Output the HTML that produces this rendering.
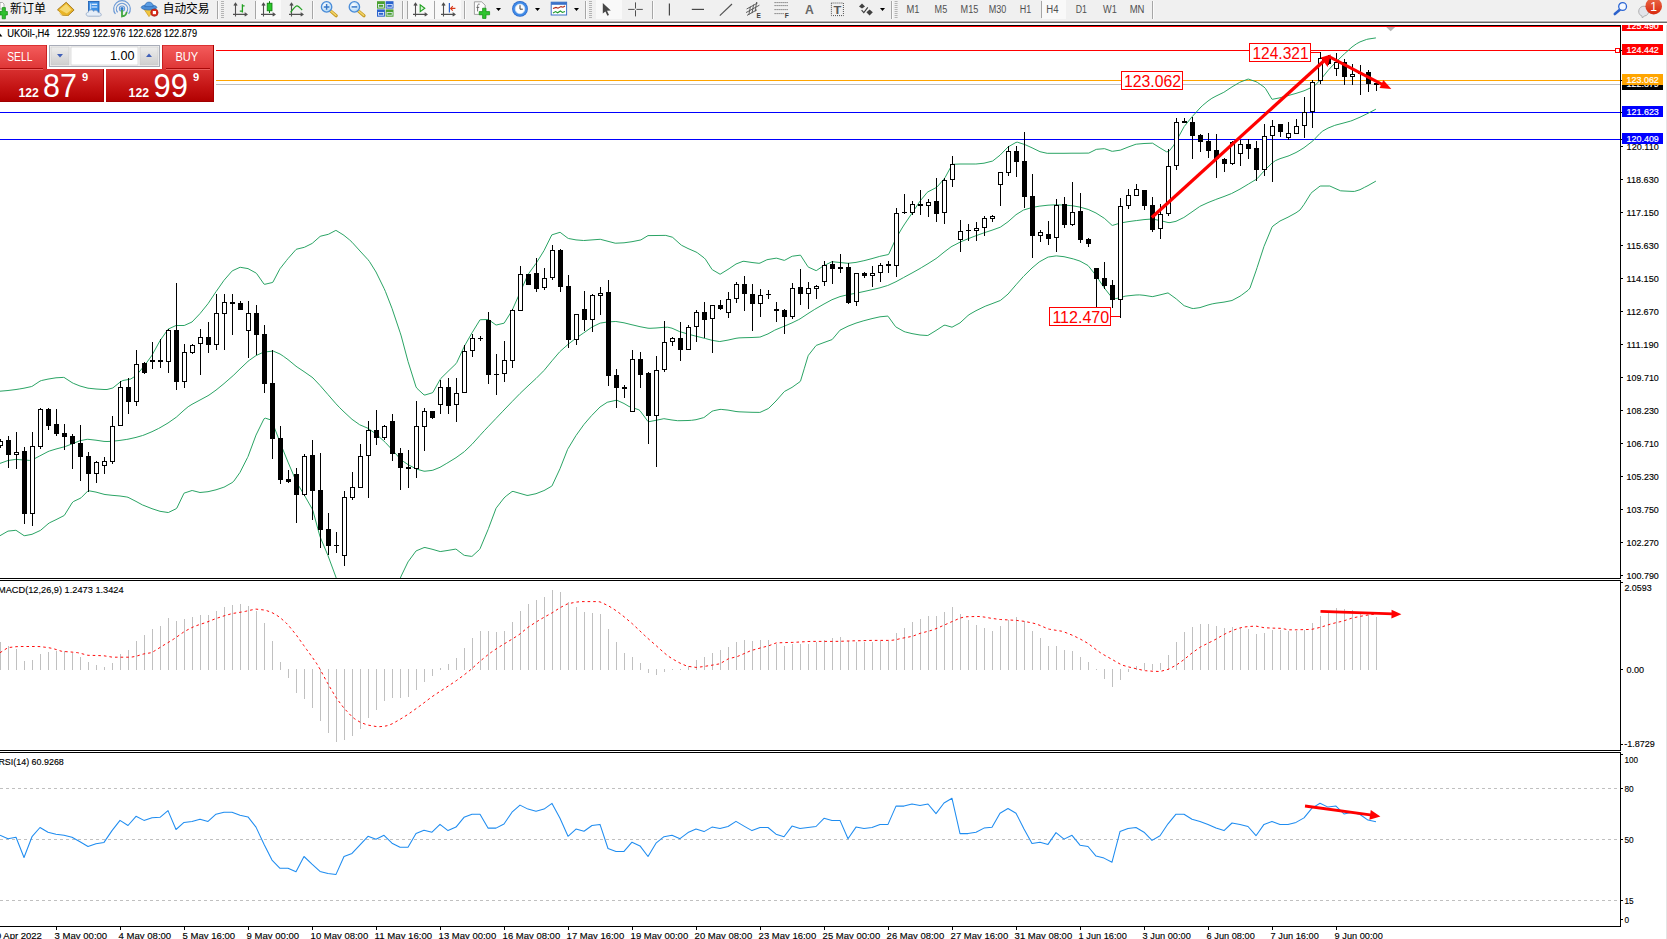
<!DOCTYPE html>
<html lang="zh"><head><meta charset="utf-8"><title>UKOil-,H4</title>
<style>
html,body{margin:0;padding:0;background:#fff}
body{width:1667px;height:939px;overflow:hidden;position:relative}
svg{display:block;position:absolute;left:0;top:0;font-family:"Liberation Sans","Noto Sans CJK SC",sans-serif}
.ce{shape-rendering:crispEdges}
.s{stroke:#000;stroke-width:.14px}
.sw{stroke:#fff;stroke-width:.2px}
</style></head><body>
<svg width="1667" height="939" viewBox="0 0 1667 939">
<defs>
<linearGradient id="gSell" x1="0" y1="0" x2="0" y2="1"><stop offset="0" stop-color="#f45c5c"/><stop offset="1" stop-color="#dd3434"/></linearGradient>
<linearGradient id="gPrice" x1="0" y1="0" x2="0" y2="1"><stop offset="0" stop-color="#d83030"/><stop offset="0.55" stop-color="#c41414"/><stop offset="1" stop-color="#b00000"/></linearGradient>
<linearGradient id="gBtn" x1="0" y1="0" x2="0" y2="1"><stop offset="0" stop-color="#ededed"/><stop offset="1" stop-color="#cfcfcf"/></linearGradient>
<linearGradient id="gBadge" x1="0" y1="0" x2="0" y2="1"><stop offset="0" stop-color="#ea6a48"/><stop offset="1" stop-color="#d8280e"/></linearGradient>
<radialGradient id="gLens" cx="0.4" cy="0.35" r="0.7"><stop offset="0" stop-color="#ffffff"/><stop offset="1" stop-color="#a8d4f4"/></radialGradient>
<radialGradient id="gClock" cx="0.5" cy="0.5" r="0.5"><stop offset="0.55" stop-color="#ffffff"/><stop offset="0.7" stop-color="#3a86e0"/><stop offset="1" stop-color="#1450b0"/></radialGradient>
<clipPath id="cMain"><rect x="0" y="27" width="1620" height="551"/></clipPath>
<clipPath id="cLbl"><rect x="1621" y="23" width="46" height="560"/></clipPath>
</defs>
<rect x="0" y="0" width="1667" height="939" fill="#fff"/>

<g class="ce">
<rect x="0" y="26" width="1620" height="1" fill="#ff0000" />
<rect x="0" y="50" width="1620" height="1" fill="#ff0000" />
<rect x="0" y="80" width="1620" height="1" fill="#ffa500" />
<rect x="0" y="84" width="1620" height="1" fill="#c0c0c0" />
<rect x="0" y="112" width="1620" height="1" fill="#0000ff" />
<rect x="0" y="139" width="1620" height="1" fill="#0000ff" />
</g>
<g clip-path="url(#cMain)" fill="none" stroke="#1f9e5c" stroke-width="0.95" stroke-linejoin="round">
<polyline points="0.0,391.2 8.0,390.5 16.0,389.5 19.8,388.9 24.0,388.2 31.7,386.5 32.0,386.4 40.0,381.1 41.6,380.5 48.0,379.1 56.0,377.8 63.4,377.4 64.0,377.4 72.0,382.6 73.3,383.3 80.0,386.0 88.0,388.2 89.1,388.3 96.0,389.0 104.0,389.5 107.0,389.5 112.0,388.2 112.9,387.9 120.0,382.2 122.8,380.5 128.0,379.6 130.7,379.0 136.0,375.7 144.0,366.2 150.6,357.2 152.0,355.2 160.0,340.7 168.0,329.3 168.4,329.0 176.0,325.5 176.3,325.5 184.0,325.5 184.2,325.5 192.0,322.0 200.0,313.6 208.0,303.7 216.0,291.7 216.3,291.3 224.0,280.3 232.0,271.1 232.6,270.7 240.0,267.3 240.3,267.3 248.0,268.6 256.0,273.0 256.6,273.5 264.0,284.1 264.8,284.3 272.0,282.6 272.9,282.2 279.7,269.2 280.0,268.7 286.4,260.6 288.0,258.6 296.0,249.5 296.9,249.1 304.0,247.4 304.6,247.2 312.0,243.5 312.3,243.3 320.0,236.5 320.9,236.1 328.0,234.4 328.6,234.2 335.8,230.4 336.0,230.4 343.0,234.7 344.0,235.4 349.7,240.0 352.0,242.2 360.0,251.0 368.0,259.7 369.5,261.6 376.0,272.0 384.0,288.3 385.4,291.4 392.0,308.4 400.0,332.2 401.2,335.9 408.0,361.4 416.0,386.9 417.0,388.4 424.0,394.9 425.0,395.0 432.0,392.9 432.9,392.4 440.0,379.7 440.8,378.5 448.0,371.4 456.0,363.7 456.7,362.7 464.0,347.0 464.6,345.8 472.0,332.8 472.5,332.0 480.0,319.8 480.5,319.7 488.0,319.5 488.4,319.5 496.0,325.0 496.3,325.0 504.0,323.2 504.2,323.1 512.0,310.6 512.2,310.2 520.0,292.6 520.1,292.4 528.0,274.5 535.9,263.6 536.0,263.5 543.9,250.8 544.0,250.6 551.8,234.9 552.0,234.8 560.0,232.3 560.1,232.3 568.0,238.3 568.6,238.5 576.0,239.9 583.5,240.5 584.0,240.5 592.0,239.9 600.0,239.3 600.3,239.3 608.0,241.3 615.2,243.2 616.0,243.2 624.0,242.8 632.0,241.7 640.0,240.1 640.9,239.9 648.0,235.6 656.0,235.5 664.0,235.4 665.8,235.4 672.0,237.1 672.7,237.4 680.0,244.0 681.6,245.3 688.0,248.5 696.0,252.0 697.4,252.8 704.0,257.8 705.4,259.2 712.0,269.4 712.3,269.7 720.0,274.2 720.2,274.2 728.0,269.4 729.1,268.7 736.0,264.0 743.0,261.3 744.0,261.3 752.0,262.5 758.9,263.3 760.0,263.1 766.8,259.8 768.0,259.5 776.0,258.2 776.7,258.2 784.0,260.3 784.6,260.3 792.0,256.3 792.5,256.2 800.0,255.2 800.5,255.2 808.0,266.8 808.4,267.1 816.0,270.6 816.3,270.6 822.2,266.7 824.0,265.6 832.0,261.7 832.2,261.7 840.0,262.5 848.0,263.3 856.0,262.4 863.9,260.7 864.0,260.7 872.0,258.6 879.7,256.4 880.0,256.3 888.0,254.6 888.6,254.4 895.5,239.5 896.0,238.5 901.5,229.0 904.0,225.0 912.0,213.2 913.4,211.2 920.0,201.1 927.2,192.4 928.0,191.8 936.0,187.7 937.1,186.9 944.0,179.0 945.1,177.5 952.0,164.8 953.0,164.3 960.0,164.0 962.0,164.0 968.0,164.0 975.8,164.0 976.0,164.0 984.0,163.2 992.0,161.2 992.7,161.0 1000.0,155.2 1008.0,147.0 1008.5,146.7 1016.0,142.4 1017.4,142.2 1024.0,144.3 1025.4,144.8 1032.0,147.8 1040.0,151.7 1047.2,153.3 1048.0,153.3 1056.0,153.3 1064.0,153.3 1072.0,153.2 1080.0,153.2 1088.0,153.1 1088.8,153.1 1096.0,149.5 1096.7,149.3 1104.0,148.7 1104.6,148.7 1112.0,151.3 1112.5,151.3 1120.0,150.2 1120.5,150.1 1128.0,147.1 1136.0,144.2 1136.3,144.2 1144.0,143.5 1152.0,143.2 1152.6,143.2 1160.0,147.9 1166.5,151.8 1168.0,151.6 1169.1,151.2 1173.8,145.2 1176.0,141.5 1179.0,136.0 1184.0,126.9 1184.3,126.4 1192.0,116.8 1192.3,116.5 1200.0,108.0 1202.8,105.3 1208.0,101.0 1211.9,98.3 1216.0,96.1 1223.8,92.3 1224.0,92.2 1232.0,86.9 1239.6,82.4 1240.0,82.2 1248.0,79.1 1248.5,79.1 1256.0,81.7 1257.4,82.4 1264.0,87.0 1265.4,88.4 1272.0,99.3 1272.3,99.3 1280.0,97.8 1285.2,96.3 1288.0,95.6 1296.0,93.4 1304.0,90.8 1305.0,90.4 1312.0,87.2 1314.9,85.4 1320.0,80.4 1328.0,70.5 1328.8,69.6 1336.0,62.0 1344.0,54.2 1344.6,53.7 1352.0,47.0 1356.5,43.8 1360.0,41.9 1366.4,39.5 1368.0,39.1 1375.9,37.9"/>
<polyline points="0.0,463.4 8.0,460.5 15.8,459.4 16.0,459.4 24.0,460.0 29.7,460.4 32.0,460.0 39.6,456.0 40.0,455.8 48.0,451.6 49.5,451.0 56.0,449.0 64.0,446.9 65.4,446.5 72.0,443.9 80.0,440.7 87.2,439.3 88.0,439.3 96.0,440.2 104.0,441.4 107.0,441.5 112.0,441.3 120.0,440.4 126.8,439.4 128.0,439.2 136.0,437.4 142.6,435.5 144.0,435.0 152.0,431.7 158.5,428.5 160.0,427.7 168.0,423.0 176.0,417.4 176.3,417.2 184.0,410.2 188.2,406.7 192.0,404.3 200.0,400.0 208.0,395.7 210.0,394.4 216.0,390.1 224.0,383.6 232.0,376.6 233.8,375.0 240.0,368.9 248.0,361.3 249.6,360.1 256.0,355.6 263.5,352.2 264.0,352.1 272.0,351.2 273.4,351.2 280.0,354.0 283.3,356.2 288.0,359.6 296.0,366.2 297.1,367.0 304.0,371.6 312.0,377.2 313.0,378.0 320.0,385.4 324.0,390.0 328.0,394.6 336.0,403.8 339.8,407.8 344.0,411.9 352.0,419.3 359.6,424.7 360.0,424.9 368.0,428.3 368.5,428.6 376.0,434.0 384.0,441.2 385.4,442.5 392.0,449.6 400.0,458.6 403.2,461.3 408.0,464.6 416.0,468.8 417.0,469.2 424.0,471.2 425.0,471.2 432.0,470.4 432.9,470.2 440.0,467.3 446.8,463.3 448.0,462.6 456.0,457.7 464.0,451.9 464.6,451.4 472.0,444.3 480.0,435.4 484.4,430.6 488.0,426.8 496.0,418.4 502.3,411.8 504.0,410.0 512.0,401.7 520.0,393.5 520.1,393.4 528.0,385.9 536.0,378.5 543.9,370.6 544.0,370.5 552.0,360.8 559.7,351.8 560.0,351.5 568.0,344.4 568.6,343.9 576.0,338.2 583.5,333.0 584.0,332.7 592.0,327.0 600.0,323.2 600.3,323.1 608.0,321.9 615.2,321.5 616.0,321.5 624.0,322.8 632.0,324.8 633.0,325.0 640.0,326.7 648.0,328.2 650.0,328.3 656.0,328.0 664.0,327.3 667.7,327.2 672.0,328.2 679.6,331.6 680.0,331.7 688.0,334.1 696.0,336.2 704.0,338.2 705.4,338.5 712.0,340.3 719.2,341.5 720.0,341.5 728.0,340.1 736.0,338.3 739.0,337.9 744.0,337.7 752.0,337.5 759.8,337.1 760.0,337.1 768.0,333.9 774.7,330.2 776.0,329.6 784.0,326.3 792.0,322.9 798.5,319.7 800.0,318.9 808.0,313.6 814.3,309.6 816.0,308.6 824.0,304.0 832.0,299.7 840.0,296.6 848.0,294.7 856.0,293.2 857.9,292.8 864.0,291.5 872.0,289.7 880.0,287.8 887.6,285.5 888.0,285.4 896.0,281.7 903.5,277.6 904.0,277.3 912.0,273.0 920.0,268.5 921.3,267.7 928.0,263.7 936.0,258.6 937.1,257.8 944.0,252.2 951.0,246.9 952.0,246.3 960.0,242.2 962.9,240.9 968.0,238.8 976.0,235.7 983.8,232.9 984.0,232.8 992.0,230.2 1000.0,227.3 1000.6,227.0 1008.0,221.8 1016.0,214.7 1023.4,210.1 1024.0,209.9 1032.0,207.5 1039.2,206.2 1040.0,206.1 1048.0,205.2 1055.1,204.8 1056.0,204.8 1064.0,205.1 1070.9,205.6 1072.0,205.7 1080.0,207.1 1088.0,209.4 1088.8,209.7 1096.0,213.0 1104.0,218.1 1104.6,218.5 1112.0,225.3 1112.5,225.4 1120.0,223.1 1120.5,223.0 1128.0,221.7 1136.0,220.6 1136.3,220.6 1144.0,219.6 1152.0,219.0 1152.2,219.0 1160.0,220.5 1168.0,222.5 1170.0,222.6 1176.0,221.3 1183.8,217.5 1184.0,217.4 1192.0,211.9 1199.7,206.5 1200.0,206.3 1208.0,202.6 1215.8,199.5 1216.0,199.4 1224.0,196.5 1231.6,193.5 1232.0,193.3 1240.0,189.1 1248.0,184.3 1248.5,184.0 1256.0,179.5 1257.3,178.5 1264.0,171.1 1265.4,169.6 1272.0,163.1 1275.3,160.7 1280.0,158.7 1288.0,156.1 1289.1,155.7 1296.0,152.5 1299.0,150.8 1304.0,147.7 1312.0,141.6 1312.9,140.9 1320.0,133.4 1322.8,131.0 1328.0,128.1 1334.7,125.4 1336.0,125.0 1344.0,122.9 1350.5,121.1 1352.0,120.6 1360.0,117.2 1366.4,114.1 1368.0,113.3 1375.9,109.2"/>
<polyline points="0.0,535.7 8.0,531.1 15.8,530.3 16.0,530.3 24.0,535.6 24.8,535.7 32.0,534.3 40.0,530.6 40.6,530.3 48.0,523.9 49.5,522.8 56.0,519.7 64.0,515.6 64.4,515.3 72.0,503.0 73.3,501.6 80.0,498.4 81.2,497.7 88.0,490.8 88.5,490.7 96.0,492.1 104.0,494.3 105.0,494.5 112.0,495.3 120.0,496.0 126.8,497.0 128.0,497.3 136.0,501.4 142.6,505.0 144.0,505.5 152.0,508.7 160.0,511.3 168.0,512.5 168.4,512.5 176.0,508.8 176.9,508.0 184.0,493.2 184.2,493.1 192.0,490.5 192.2,490.5 200.0,492.5 208.0,491.7 216.0,489.8 223.9,487.2 224.0,487.2 232.0,482.7 233.8,481.2 240.0,472.4 247.6,457.4 248.0,456.6 256.0,435.1 264.0,418.8 265.5,418.2 270.4,419.8 272.0,421.4 280.0,442.3 281.3,445.6 288.0,462.1 296.0,480.9 297.1,483.2 304.0,494.6 312.0,508.6 313.0,511.0 320.0,536.6 327.9,555.4 328.0,555.7 335.5,576.0 336.0,577.4 344.0,599.5 345.0,600.0 352.0,600.0 360.0,600.0 368.0,600.0 376.0,600.0 384.0,600.0 392.0,600.0 400.0,579.0 401.2,576.0 408.0,561.9 416.0,551.0 416.1,550.9 424.0,547.6 425.0,547.5 432.0,549.2 440.0,551.5 440.8,551.5 448.0,550.4 455.7,549.1 456.0,549.1 464.0,555.2 464.6,555.4 471.5,556.4 472.0,556.4 479.5,549.5 480.0,548.8 488.0,529.7 488.4,528.7 496.0,508.4 496.3,507.9 504.0,498.0 506.2,496.0 512.0,491.6 513.1,491.4 520.0,493.4 527.0,495.4 528.0,495.4 536.0,493.7 543.9,490.6 544.0,490.6 551.8,486.1 552.0,485.9 560.0,468.7 567.6,449.4 568.0,448.7 576.0,435.5 584.0,424.4 591.4,415.8 592.0,415.2 600.0,407.0 607.2,402.3 608.0,402.1 616.0,400.3 617.1,400.3 624.0,403.5 629.0,406.5 632.0,407.5 638.9,409.8 640.0,410.7 648.0,421.5 648.9,421.7 656.0,420.3 663.8,418.7 664.0,418.7 672.0,420.0 677.6,420.7 680.0,420.7 688.0,420.5 691.5,420.3 696.0,419.7 703.4,417.7 704.0,417.5 712.0,411.3 713.3,410.8 720.0,409.4 721.2,409.4 728.0,410.1 736.0,411.5 739.0,411.8 744.0,412.0 752.0,412.3 759.8,412.4 760.0,412.4 768.0,408.7 768.8,408.2 776.0,401.0 784.0,391.9 784.6,391.4 792.0,387.4 800.0,381.7 800.5,381.1 804.4,368.2 808.0,356.2 808.4,355.3 816.0,345.6 816.3,345.4 824.0,342.5 832.0,339.6 832.2,339.5 840.0,330.2 848.0,326.2 856.0,323.1 863.9,320.7 864.0,320.7 872.0,318.6 880.0,316.8 887.6,316.1 888.0,316.2 895.5,326.6 896.0,327.0 904.0,331.5 905.5,332.0 912.0,333.6 920.0,335.0 927.2,335.5 928.0,335.4 936.0,330.5 944.0,325.3 945.1,325.2 952.0,327.2 960.0,322.9 968.0,315.5 970.0,314.1 976.0,310.7 984.0,306.8 985.8,306.0 992.0,303.7 1000.0,300.6 1000.6,300.3 1008.0,294.1 1016.0,284.8 1023.4,276.5 1024.0,275.9 1032.0,268.0 1039.2,262.0 1040.0,261.5 1048.0,257.1 1048.5,257.0 1056.0,255.9 1056.4,255.9 1064.0,256.7 1072.0,258.6 1073.6,259.0 1080.0,261.1 1088.0,265.5 1088.1,265.6 1096.0,275.5 1102.6,285.4 1104.0,287.5 1110.5,295.9 1112.0,297.0 1115.8,298.6 1120.0,297.7 1125.0,296.2 1128.0,295.8 1136.0,295.0 1139.6,294.9 1144.0,295.3 1152.0,296.6 1152.8,296.6 1160.0,294.9 1168.0,292.9 1176.0,298.7 1176.6,299.2 1184.0,305.6 1184.5,305.8 1192.0,308.4 1193.7,308.5 1200.0,307.6 1208.0,305.0 1212.2,303.9 1216.0,303.2 1224.0,302.1 1232.0,300.5 1240.0,296.2 1241.3,295.3 1248.0,290.3 1250.0,288.0 1256.0,270.9 1257.1,267.6 1264.0,246.4 1272.0,227.2 1273.0,226.0 1280.0,221.0 1288.0,217.2 1290.0,216.1 1296.0,212.8 1300.0,210.0 1304.0,204.5 1310.9,193.4 1312.0,192.3 1320.0,186.1 1320.8,186.0 1328.0,186.0 1329.8,186.0 1336.0,188.8 1340.6,190.8 1344.0,191.0 1352.0,191.4 1354.5,191.4 1360.0,189.7 1364.4,187.4 1368.0,185.6 1375.9,181.1"/>
</g>
<g class="ce" clip-path="url(#cMain)">
<rect x="0" y="439" width="1" height="9" fill="#000" />
<rect x="-2" y="441" width="5" height="5" fill="#000" />
<rect x="-1" y="442" width="3" height="3" fill="#fff" />
<rect x="8" y="436" width="1" height="32" fill="#000" />
<rect x="6" y="440" width="5" height="15" fill="#000" />
<rect x="16" y="432" width="1" height="37" fill="#000" />
<rect x="14" y="452" width="5" height="3" fill="#000" />
<rect x="15" y="453" width="3" height="1" fill="#fff" />
<rect x="24" y="447" width="1" height="77" fill="#000" />
<rect x="22" y="451" width="5" height="63" fill="#000" />
<rect x="32" y="432" width="1" height="94" fill="#000" />
<rect x="30" y="446" width="5" height="68" fill="#000" />
<rect x="31" y="447" width="3" height="66" fill="#fff" />
<rect x="40" y="408" width="1" height="41" fill="#000" />
<rect x="38" y="409" width="5" height="38" fill="#000" />
<rect x="39" y="410" width="3" height="36" fill="#fff" />
<rect x="48" y="408" width="1" height="22" fill="#000" />
<rect x="46" y="409" width="5" height="17" fill="#000" />
<rect x="56" y="409" width="1" height="27" fill="#000" />
<rect x="54" y="424" width="5" height="10" fill="#000" />
<rect x="64" y="424" width="1" height="26" fill="#000" />
<rect x="62" y="433" width="5" height="4" fill="#000" />
<rect x="72" y="434" width="1" height="35" fill="#000" />
<rect x="70" y="436" width="5" height="8" fill="#000" />
<rect x="80" y="425" width="1" height="56" fill="#000" />
<rect x="78" y="443" width="5" height="14" fill="#000" />
<rect x="88" y="452" width="1" height="40" fill="#000" />
<rect x="86" y="456" width="5" height="18" fill="#000" />
<rect x="96" y="461" width="1" height="22" fill="#000" />
<rect x="94" y="462" width="5" height="12" fill="#000" />
<rect x="95" y="463" width="3" height="10" fill="#fff" />
<rect x="104" y="457" width="1" height="17" fill="#000" />
<rect x="102" y="461" width="5" height="5" fill="#000" />
<rect x="103" y="462" width="3" height="3" fill="#fff" />
<rect x="112" y="416" width="1" height="48" fill="#000" />
<rect x="110" y="426" width="5" height="36" fill="#000" />
<rect x="111" y="427" width="3" height="34" fill="#fff" />
<rect x="120" y="381" width="1" height="45" fill="#000" />
<rect x="118" y="387" width="5" height="39" fill="#000" />
<rect x="119" y="388" width="3" height="37" fill="#fff" />
<rect x="128" y="378" width="1" height="36" fill="#000" />
<rect x="126" y="387" width="5" height="15" fill="#000" />
<rect x="136" y="350" width="1" height="56" fill="#000" />
<rect x="134" y="364" width="5" height="38" fill="#000" />
<rect x="135" y="365" width="3" height="36" fill="#fff" />
<rect x="144" y="362" width="1" height="12" fill="#000" />
<rect x="142" y="363" width="5" height="10" fill="#000" />
<rect x="152" y="342" width="1" height="27" fill="#000" />
<rect x="150" y="360" width="5" height="2" fill="#000" />
<rect x="160" y="339" width="1" height="29" fill="#000" />
<rect x="158" y="360" width="5" height="2" fill="#000" />
<rect x="168" y="329" width="1" height="44" fill="#000" />
<rect x="166" y="330" width="5" height="32" fill="#000" />
<rect x="167" y="331" width="3" height="30" fill="#fff" />
<rect x="176" y="283" width="1" height="107" fill="#000" />
<rect x="174" y="330" width="5" height="52" fill="#000" />
<rect x="184" y="344" width="1" height="44" fill="#000" />
<rect x="182" y="352" width="5" height="30" fill="#000" />
<rect x="183" y="353" width="3" height="28" fill="#fff" />
<rect x="192" y="344" width="1" height="10" fill="#000" />
<rect x="190" y="345" width="5" height="8" fill="#000" />
<rect x="191" y="346" width="3" height="6" fill="#fff" />
<rect x="200" y="329" width="1" height="46" fill="#000" />
<rect x="198" y="337" width="5" height="7" fill="#000" />
<rect x="199" y="338" width="3" height="5" fill="#fff" />
<rect x="208" y="322" width="1" height="31" fill="#000" />
<rect x="206" y="337" width="5" height="8" fill="#000" />
<rect x="216" y="294" width="1" height="56" fill="#000" />
<rect x="214" y="313" width="5" height="32" fill="#000" />
<rect x="215" y="314" width="3" height="30" fill="#fff" />
<rect x="224" y="294" width="1" height="56" fill="#000" />
<rect x="222" y="302" width="5" height="12" fill="#000" />
<rect x="223" y="303" width="3" height="10" fill="#fff" />
<rect x="232" y="294" width="1" height="41" fill="#000" />
<rect x="230" y="302" width="5" height="2" fill="#000" />
<rect x="240" y="301" width="1" height="9" fill="#000" />
<rect x="238" y="303" width="5" height="7" fill="#000" />
<rect x="248" y="301" width="1" height="57" fill="#000" />
<rect x="246" y="313" width="5" height="18" fill="#000" />
<rect x="247" y="314" width="3" height="16" fill="#fff" />
<rect x="256" y="305" width="1" height="50" fill="#000" />
<rect x="254" y="313" width="5" height="22" fill="#000" />
<rect x="264" y="325" width="1" height="68" fill="#000" />
<rect x="262" y="334" width="5" height="50" fill="#000" />
<rect x="272" y="350" width="1" height="109" fill="#000" />
<rect x="270" y="383" width="5" height="56" fill="#000" />
<rect x="280" y="426" width="1" height="58" fill="#000" />
<rect x="278" y="438" width="5" height="42" fill="#000" />
<rect x="288" y="470" width="1" height="13" fill="#000" />
<rect x="286" y="479" width="5" height="3" fill="#000" />
<rect x="296" y="468" width="1" height="55" fill="#000" />
<rect x="294" y="474" width="5" height="21" fill="#000" />
<rect x="304" y="454" width="1" height="42" fill="#000" />
<rect x="302" y="456" width="5" height="39" fill="#000" />
<rect x="303" y="457" width="3" height="37" fill="#fff" />
<rect x="312" y="440" width="1" height="80" fill="#000" />
<rect x="310" y="455" width="5" height="36" fill="#000" />
<rect x="320" y="453" width="1" height="95" fill="#000" />
<rect x="318" y="490" width="5" height="40" fill="#000" />
<rect x="328" y="513" width="1" height="42" fill="#000" />
<rect x="326" y="529" width="5" height="17" fill="#000" />
<rect x="336" y="532" width="1" height="21" fill="#000" />
<rect x="334" y="545" width="5" height="1" fill="#000" />
<rect x="344" y="491" width="1" height="75" fill="#000" />
<rect x="342" y="497" width="5" height="59" fill="#000" />
<rect x="343" y="498" width="3" height="57" fill="#fff" />
<rect x="352" y="472" width="1" height="28" fill="#000" />
<rect x="350" y="487" width="5" height="11" fill="#000" />
<rect x="351" y="488" width="3" height="9" fill="#fff" />
<rect x="360" y="444" width="1" height="44" fill="#000" />
<rect x="358" y="456" width="5" height="32" fill="#000" />
<rect x="359" y="457" width="3" height="30" fill="#fff" />
<rect x="368" y="421" width="1" height="77" fill="#000" />
<rect x="366" y="430" width="5" height="26" fill="#000" />
<rect x="367" y="431" width="3" height="24" fill="#fff" />
<rect x="376" y="410" width="1" height="35" fill="#000" />
<rect x="374" y="430" width="5" height="8" fill="#000" />
<rect x="384" y="425" width="1" height="15" fill="#000" />
<rect x="382" y="426" width="5" height="12" fill="#000" />
<rect x="383" y="427" width="3" height="10" fill="#fff" />
<rect x="392" y="414" width="1" height="47" fill="#000" />
<rect x="390" y="421" width="5" height="33" fill="#000" />
<rect x="400" y="448" width="1" height="42" fill="#000" />
<rect x="398" y="453" width="5" height="15" fill="#000" />
<rect x="408" y="450" width="1" height="38" fill="#000" />
<rect x="406" y="467" width="5" height="2" fill="#000" />
<rect x="416" y="401" width="1" height="77" fill="#000" />
<rect x="414" y="426" width="5" height="43" fill="#000" />
<rect x="415" y="427" width="3" height="41" fill="#fff" />
<rect x="424" y="408" width="1" height="43" fill="#000" />
<rect x="422" y="411" width="5" height="16" fill="#000" />
<rect x="423" y="412" width="3" height="14" fill="#fff" />
<rect x="432" y="411" width="1" height="8" fill="#000" />
<rect x="430" y="411" width="5" height="7" fill="#000" />
<rect x="440" y="380" width="1" height="34" fill="#000" />
<rect x="438" y="387" width="5" height="18" fill="#000" />
<rect x="439" y="388" width="3" height="16" fill="#fff" />
<rect x="448" y="378" width="1" height="36" fill="#000" />
<rect x="446" y="387" width="5" height="19" fill="#000" />
<rect x="456" y="378" width="1" height="44" fill="#000" />
<rect x="454" y="393" width="5" height="12" fill="#000" />
<rect x="455" y="394" width="3" height="10" fill="#fff" />
<rect x="464" y="345" width="1" height="48" fill="#000" />
<rect x="462" y="351" width="5" height="42" fill="#000" />
<rect x="463" y="352" width="3" height="40" fill="#fff" />
<rect x="472" y="334" width="1" height="23" fill="#000" />
<rect x="470" y="338" width="5" height="13" fill="#000" />
<rect x="471" y="339" width="3" height="11" fill="#fff" />
<rect x="480" y="336" width="1" height="5" fill="#000" />
<rect x="478" y="338" width="5" height="1" fill="#000" />
<rect x="488" y="312" width="1" height="72" fill="#000" />
<rect x="486" y="320" width="5" height="55" fill="#000" />
<rect x="496" y="354" width="1" height="41" fill="#000" />
<rect x="494" y="374" width="5" height="1" fill="#000" />
<rect x="504" y="341" width="1" height="41" fill="#000" />
<rect x="502" y="360" width="5" height="14" fill="#000" />
<rect x="503" y="361" width="3" height="12" fill="#fff" />
<rect x="512" y="309" width="1" height="59" fill="#000" />
<rect x="510" y="310" width="5" height="51" fill="#000" />
<rect x="511" y="311" width="3" height="49" fill="#fff" />
<rect x="520" y="266" width="1" height="45" fill="#000" />
<rect x="518" y="274" width="5" height="37" fill="#000" />
<rect x="519" y="275" width="3" height="35" fill="#fff" />
<rect x="528" y="274" width="1" height="11" fill="#000" />
<rect x="526" y="274" width="5" height="11" fill="#000" />
<rect x="536" y="258" width="1" height="34" fill="#000" />
<rect x="534" y="273" width="5" height="16" fill="#000" />
<rect x="544" y="268" width="1" height="22" fill="#000" />
<rect x="542" y="278" width="5" height="10" fill="#000" />
<rect x="543" y="279" width="3" height="8" fill="#fff" />
<rect x="552" y="245" width="1" height="35" fill="#000" />
<rect x="550" y="250" width="5" height="28" fill="#000" />
<rect x="551" y="251" width="3" height="26" fill="#fff" />
<rect x="560" y="249" width="1" height="43" fill="#000" />
<rect x="558" y="250" width="5" height="37" fill="#000" />
<rect x="568" y="275" width="1" height="73" fill="#000" />
<rect x="566" y="286" width="5" height="54" fill="#000" />
<rect x="576" y="314" width="1" height="31" fill="#000" />
<rect x="574" y="314" width="5" height="26" fill="#000" />
<rect x="575" y="315" width="3" height="24" fill="#fff" />
<rect x="584" y="291" width="1" height="40" fill="#000" />
<rect x="582" y="309" width="5" height="11" fill="#000" />
<rect x="592" y="294" width="1" height="38" fill="#000" />
<rect x="590" y="295" width="5" height="25" fill="#000" />
<rect x="591" y="296" width="3" height="23" fill="#fff" />
<rect x="600" y="287" width="1" height="28" fill="#000" />
<rect x="598" y="293" width="5" height="3" fill="#000" />
<rect x="599" y="294" width="3" height="1" fill="#fff" />
<rect x="608" y="280" width="1" height="106" fill="#000" />
<rect x="606" y="292" width="5" height="84" fill="#000" />
<rect x="616" y="369" width="1" height="39" fill="#000" />
<rect x="614" y="375" width="5" height="13" fill="#000" />
<rect x="624" y="385" width="1" height="13" fill="#000" />
<rect x="622" y="387" width="5" height="2" fill="#000" />
<rect x="632" y="350" width="1" height="62" fill="#000" />
<rect x="630" y="359" width="5" height="53" fill="#000" />
<rect x="631" y="360" width="3" height="51" fill="#fff" />
<rect x="640" y="352" width="1" height="36" fill="#000" />
<rect x="638" y="359" width="5" height="16" fill="#000" />
<rect x="648" y="372" width="1" height="72" fill="#000" />
<rect x="646" y="373" width="5" height="43" fill="#000" />
<rect x="656" y="356" width="1" height="111" fill="#000" />
<rect x="654" y="370" width="5" height="46" fill="#000" />
<rect x="655" y="371" width="3" height="44" fill="#fff" />
<rect x="664" y="321" width="1" height="51" fill="#000" />
<rect x="662" y="342" width="5" height="28" fill="#000" />
<rect x="663" y="343" width="3" height="26" fill="#fff" />
<rect x="672" y="337" width="1" height="9" fill="#000" />
<rect x="670" y="338" width="5" height="4" fill="#000" />
<rect x="671" y="339" width="3" height="2" fill="#fff" />
<rect x="680" y="322" width="1" height="39" fill="#000" />
<rect x="678" y="338" width="5" height="12" fill="#000" />
<rect x="688" y="325" width="1" height="25" fill="#000" />
<rect x="686" y="327" width="5" height="23" fill="#000" />
<rect x="687" y="328" width="3" height="21" fill="#fff" />
<rect x="696" y="310" width="1" height="32" fill="#000" />
<rect x="694" y="312" width="5" height="15" fill="#000" />
<rect x="695" y="313" width="3" height="13" fill="#fff" />
<rect x="704" y="302" width="1" height="36" fill="#000" />
<rect x="702" y="312" width="5" height="8" fill="#000" />
<rect x="712" y="305" width="1" height="48" fill="#000" />
<rect x="710" y="305" width="5" height="14" fill="#000" />
<rect x="711" y="306" width="3" height="12" fill="#fff" />
<rect x="720" y="300" width="1" height="10" fill="#000" />
<rect x="718" y="305" width="5" height="4" fill="#000" />
<rect x="728" y="292" width="1" height="26" fill="#000" />
<rect x="726" y="299" width="5" height="14" fill="#000" />
<rect x="727" y="300" width="3" height="12" fill="#fff" />
<rect x="736" y="282" width="1" height="21" fill="#000" />
<rect x="734" y="284" width="5" height="15" fill="#000" />
<rect x="735" y="285" width="3" height="13" fill="#fff" />
<rect x="744" y="276" width="1" height="35" fill="#000" />
<rect x="742" y="284" width="5" height="10" fill="#000" />
<rect x="752" y="284" width="1" height="47" fill="#000" />
<rect x="750" y="294" width="5" height="10" fill="#000" />
<rect x="760" y="289" width="1" height="28" fill="#000" />
<rect x="758" y="295" width="5" height="9" fill="#000" />
<rect x="759" y="296" width="3" height="7" fill="#fff" />
<rect x="768" y="290" width="1" height="9" fill="#000" />
<rect x="766" y="294" width="5" height="1" fill="#000" />
<rect x="776" y="302" width="1" height="20" fill="#000" />
<rect x="774" y="309" width="5" height="2" fill="#000" />
<rect x="784" y="309" width="1" height="25" fill="#000" />
<rect x="782" y="310" width="5" height="7" fill="#000" />
<rect x="792" y="283" width="1" height="36" fill="#000" />
<rect x="790" y="288" width="5" height="29" fill="#000" />
<rect x="791" y="289" width="3" height="27" fill="#fff" />
<rect x="800" y="269" width="1" height="36" fill="#000" />
<rect x="798" y="287" width="5" height="7" fill="#000" />
<rect x="808" y="282" width="1" height="27" fill="#000" />
<rect x="806" y="288" width="5" height="6" fill="#000" />
<rect x="807" y="289" width="3" height="4" fill="#fff" />
<rect x="816" y="285" width="1" height="14" fill="#000" />
<rect x="814" y="286" width="5" height="3" fill="#000" />
<rect x="815" y="287" width="3" height="1" fill="#fff" />
<rect x="824" y="261" width="1" height="25" fill="#000" />
<rect x="822" y="265" width="5" height="17" fill="#000" />
<rect x="823" y="266" width="3" height="15" fill="#fff" />
<rect x="832" y="261" width="1" height="23" fill="#000" />
<rect x="830" y="264" width="5" height="5" fill="#000" />
<rect x="840" y="254" width="1" height="19" fill="#000" />
<rect x="838" y="267" width="5" height="2" fill="#000" />
<rect x="848" y="263" width="1" height="41" fill="#000" />
<rect x="846" y="267" width="5" height="36" fill="#000" />
<rect x="856" y="273" width="1" height="33" fill="#000" />
<rect x="854" y="273" width="5" height="29" fill="#000" />
<rect x="855" y="274" width="3" height="27" fill="#fff" />
<rect x="864" y="272" width="1" height="6" fill="#000" />
<rect x="862" y="273" width="5" height="3" fill="#000" />
<rect x="872" y="266" width="1" height="21" fill="#000" />
<rect x="870" y="273" width="5" height="3" fill="#000" />
<rect x="871" y="274" width="3" height="1" fill="#fff" />
<rect x="880" y="263" width="1" height="19" fill="#000" />
<rect x="878" y="265" width="5" height="8" fill="#000" />
<rect x="879" y="266" width="3" height="6" fill="#fff" />
<rect x="888" y="261" width="1" height="12" fill="#000" />
<rect x="886" y="264" width="5" height="2" fill="#000" />
<rect x="896" y="208" width="1" height="69" fill="#000" />
<rect x="894" y="213" width="5" height="53" fill="#000" />
<rect x="895" y="214" width="3" height="51" fill="#fff" />
<rect x="904" y="194" width="1" height="20" fill="#000" />
<rect x="902" y="212" width="5" height="1" fill="#000" />
<rect x="912" y="201" width="1" height="14" fill="#000" />
<rect x="910" y="204" width="5" height="9" fill="#000" />
<rect x="911" y="205" width="3" height="7" fill="#fff" />
<rect x="920" y="190" width="1" height="25" fill="#000" />
<rect x="918" y="204" width="5" height="2" fill="#000" />
<rect x="928" y="199" width="1" height="18" fill="#000" />
<rect x="926" y="202" width="5" height="4" fill="#000" />
<rect x="927" y="203" width="3" height="2" fill="#fff" />
<rect x="936" y="178" width="1" height="44" fill="#000" />
<rect x="934" y="201" width="5" height="13" fill="#000" />
<rect x="944" y="178" width="1" height="46" fill="#000" />
<rect x="942" y="180" width="5" height="33" fill="#000" />
<rect x="943" y="181" width="3" height="31" fill="#fff" />
<rect x="952" y="156" width="1" height="31" fill="#000" />
<rect x="950" y="164" width="5" height="16" fill="#000" />
<rect x="951" y="165" width="3" height="14" fill="#fff" />
<rect x="960" y="220" width="1" height="32" fill="#000" />
<rect x="958" y="231" width="5" height="9" fill="#000" />
<rect x="959" y="232" width="3" height="7" fill="#fff" />
<rect x="968" y="224" width="1" height="17" fill="#000" />
<rect x="966" y="230" width="5" height="1" fill="#000" />
<rect x="976" y="222" width="1" height="19" fill="#000" />
<rect x="974" y="228" width="5" height="3" fill="#000" />
<rect x="975" y="229" width="3" height="1" fill="#fff" />
<rect x="984" y="216" width="1" height="20" fill="#000" />
<rect x="982" y="218" width="5" height="10" fill="#000" />
<rect x="983" y="219" width="3" height="8" fill="#fff" />
<rect x="992" y="215" width="1" height="7" fill="#000" />
<rect x="990" y="216" width="5" height="3" fill="#000" />
<rect x="991" y="217" width="3" height="1" fill="#fff" />
<rect x="1000" y="172" width="1" height="34" fill="#000" />
<rect x="998" y="172" width="5" height="13" fill="#000" />
<rect x="999" y="173" width="3" height="11" fill="#fff" />
<rect x="1008" y="146" width="1" height="30" fill="#000" />
<rect x="1006" y="151" width="5" height="22" fill="#000" />
<rect x="1007" y="152" width="3" height="20" fill="#fff" />
<rect x="1016" y="146" width="1" height="31" fill="#000" />
<rect x="1014" y="151" width="5" height="11" fill="#000" />
<rect x="1024" y="132" width="1" height="76" fill="#000" />
<rect x="1022" y="161" width="5" height="36" fill="#000" />
<rect x="1032" y="174" width="1" height="84" fill="#000" />
<rect x="1030" y="196" width="5" height="40" fill="#000" />
<rect x="1040" y="230" width="1" height="12" fill="#000" />
<rect x="1038" y="232" width="5" height="4" fill="#000" />
<rect x="1039" y="233" width="3" height="2" fill="#fff" />
<rect x="1048" y="221" width="1" height="24" fill="#000" />
<rect x="1046" y="234" width="5" height="5" fill="#000" />
<rect x="1056" y="199" width="1" height="53" fill="#000" />
<rect x="1054" y="205" width="5" height="33" fill="#000" />
<rect x="1055" y="206" width="3" height="31" fill="#fff" />
<rect x="1064" y="197" width="1" height="31" fill="#000" />
<rect x="1062" y="204" width="5" height="21" fill="#000" />
<rect x="1072" y="182" width="1" height="44" fill="#000" />
<rect x="1070" y="212" width="5" height="13" fill="#000" />
<rect x="1071" y="213" width="3" height="11" fill="#fff" />
<rect x="1080" y="193" width="1" height="50" fill="#000" />
<rect x="1078" y="211" width="5" height="29" fill="#000" />
<rect x="1088" y="238" width="1" height="9" fill="#000" />
<rect x="1086" y="239" width="5" height="5" fill="#000" />
<rect x="1096" y="268" width="1" height="41" fill="#000" />
<rect x="1094" y="268" width="5" height="11" fill="#000" />
<rect x="1104" y="262" width="1" height="27" fill="#000" />
<rect x="1102" y="278" width="5" height="8" fill="#000" />
<rect x="1112" y="280" width="1" height="28" fill="#000" />
<rect x="1110" y="285" width="5" height="15" fill="#000" />
<rect x="1120" y="198" width="1" height="120" fill="#000" />
<rect x="1118" y="206" width="5" height="94" fill="#000" />
<rect x="1119" y="207" width="3" height="92" fill="#fff" />
<rect x="1128" y="189" width="1" height="20" fill="#000" />
<rect x="1126" y="195" width="5" height="11" fill="#000" />
<rect x="1127" y="196" width="3" height="9" fill="#fff" />
<rect x="1136" y="184" width="1" height="12" fill="#000" />
<rect x="1134" y="189" width="5" height="7" fill="#000" />
<rect x="1135" y="190" width="3" height="5" fill="#fff" />
<rect x="1144" y="190" width="1" height="20" fill="#000" />
<rect x="1142" y="190" width="5" height="16" fill="#000" />
<rect x="1152" y="197" width="1" height="35" fill="#000" />
<rect x="1150" y="205" width="5" height="25" fill="#000" />
<rect x="1160" y="204" width="1" height="35" fill="#000" />
<rect x="1158" y="214" width="5" height="15" fill="#000" />
<rect x="1159" y="215" width="3" height="13" fill="#fff" />
<rect x="1168" y="149" width="1" height="67" fill="#000" />
<rect x="1166" y="166" width="5" height="48" fill="#000" />
<rect x="1167" y="167" width="3" height="46" fill="#fff" />
<rect x="1176" y="118" width="1" height="52" fill="#000" />
<rect x="1174" y="122" width="5" height="44" fill="#000" />
<rect x="1175" y="123" width="3" height="42" fill="#fff" />
<rect x="1184" y="118" width="1" height="5" fill="#000" />
<rect x="1182" y="121" width="5" height="2" fill="#000" />
<rect x="1192" y="117" width="1" height="42" fill="#000" />
<rect x="1190" y="122" width="5" height="14" fill="#000" />
<rect x="1200" y="134" width="1" height="18" fill="#000" />
<rect x="1198" y="135" width="5" height="7" fill="#000" />
<rect x="1208" y="133" width="1" height="25" fill="#000" />
<rect x="1206" y="141" width="5" height="10" fill="#000" />
<rect x="1216" y="134" width="1" height="44" fill="#000" />
<rect x="1214" y="150" width="5" height="9" fill="#000" />
<rect x="1224" y="158" width="1" height="14" fill="#000" />
<rect x="1222" y="159" width="5" height="5" fill="#000" />
<rect x="1232" y="141" width="1" height="24" fill="#000" />
<rect x="1230" y="142" width="5" height="22" fill="#000" />
<rect x="1231" y="143" width="3" height="20" fill="#fff" />
<rect x="1240" y="140" width="1" height="26" fill="#000" />
<rect x="1238" y="144" width="5" height="10" fill="#000" />
<rect x="1239" y="145" width="3" height="8" fill="#fff" />
<rect x="1248" y="139" width="1" height="20" fill="#000" />
<rect x="1246" y="144" width="5" height="5" fill="#000" />
<rect x="1256" y="141" width="1" height="40" fill="#000" />
<rect x="1254" y="148" width="5" height="22" fill="#000" />
<rect x="1264" y="124" width="1" height="52" fill="#000" />
<rect x="1262" y="136" width="5" height="34" fill="#000" />
<rect x="1263" y="137" width="3" height="32" fill="#fff" />
<rect x="1272" y="120" width="1" height="62" fill="#000" />
<rect x="1270" y="126" width="5" height="10" fill="#000" />
<rect x="1271" y="127" width="3" height="8" fill="#fff" />
<rect x="1280" y="124" width="1" height="13" fill="#000" />
<rect x="1278" y="124" width="5" height="8" fill="#000" />
<rect x="1288" y="122" width="1" height="18" fill="#000" />
<rect x="1286" y="133" width="5" height="5" fill="#000" />
<rect x="1287" y="134" width="3" height="3" fill="#fff" />
<rect x="1296" y="119" width="1" height="15" fill="#000" />
<rect x="1294" y="126" width="5" height="8" fill="#000" />
<rect x="1295" y="127" width="3" height="6" fill="#fff" />
<rect x="1304" y="97" width="1" height="41" fill="#000" />
<rect x="1302" y="112" width="5" height="14" fill="#000" />
<rect x="1303" y="113" width="3" height="12" fill="#fff" />
<rect x="1312" y="80" width="1" height="48" fill="#000" />
<rect x="1310" y="82" width="5" height="30" fill="#000" />
<rect x="1311" y="83" width="3" height="28" fill="#fff" />
<rect x="1320" y="52" width="1" height="32" fill="#000" />
<rect x="1318" y="58" width="5" height="23" fill="#000" />
<rect x="1319" y="59" width="3" height="21" fill="#fff" />
<rect x="1328" y="55" width="1" height="10" fill="#000" />
<rect x="1326" y="57" width="5" height="7" fill="#000" />
<rect x="1336" y="53" width="1" height="23" fill="#000" />
<rect x="1334" y="62" width="5" height="7" fill="#000" />
<rect x="1335" y="63" width="3" height="5" fill="#fff" />
<rect x="1344" y="59" width="1" height="26" fill="#000" />
<rect x="1342" y="62" width="5" height="15" fill="#000" />
<rect x="1352" y="64" width="1" height="21" fill="#000" />
<rect x="1350" y="74" width="5" height="3" fill="#000" />
<rect x="1351" y="75" width="3" height="1" fill="#fff" />
<rect x="1360" y="65" width="1" height="30" fill="#000" />
<rect x="1358" y="73" width="5" height="1" fill="#000" />
<rect x="1368" y="70" width="1" height="22" fill="#000" />
<rect x="1366" y="72" width="5" height="12" fill="#000" />
<rect x="1376" y="83" width="1" height="8" fill="#000" />
<rect x="1374" y="83" width="5" height="2" fill="#000" />
</g>
<rect x="1249.5" y="43.5" width="61" height="18" fill="#fff" stroke="#ff0000" stroke-width="1" class="ce"/>
<text x="1252.4" y="58.7" font-size="16.5" fill="#ff0000" textLength="56.2" lengthAdjust="spacingAndGlyphs" >124.321</text>
<rect x="1311" y="52" width="9" height="1" fill="#ff0000" />
<rect x="1121.5" y="71.5" width="61" height="18" fill="#fff" stroke="#ff0000" stroke-width="1" class="ce"/>
<text x="1124" y="87" font-size="16.5" fill="#ff0000" textLength="57.1" lengthAdjust="spacingAndGlyphs" >123.062</text>
<rect x="1049.5" y="307.5" width="61" height="18" fill="#fff" stroke="#ff0000" stroke-width="1" class="ce"/>
<text x="1052.4" y="322.7" font-size="16.5" fill="#ff0000" textLength="56.8" lengthAdjust="spacingAndGlyphs" >112.470</text>
<rect x="1111" y="316" width="9" height="1" fill="#ff0000" />
<g stroke="#ff0000" stroke-width="3.3" stroke-linecap="butt" fill="#ff0000">
<line x1="1151.8" y1="217.5" x2="1326" y2="59"/>
<line x1="1328.6" y1="56.4" x2="1385" y2="85.8" stroke-width="3"/>
</g>
<g fill="#ff0000">
<polygon points="1330.8,54.4 1320.8,57.6 1327.6,67"/>
<polygon points="1391.3,89 1379.6,88 1383.4,80"/>
</g>
<polygon points="1386.2,27 1395.2,27 1390.7,31.2" fill="#b4b4b4"/>
<g class="ce">
<rect x="0" y="642" width="1" height="28" fill="#c0c0c0" />
<rect x="8" y="646" width="1" height="24" fill="#c0c0c0" />
<rect x="16" y="649" width="1" height="21" fill="#c0c0c0" />
<rect x="24" y="661" width="1" height="9" fill="#c0c0c0" />
<rect x="32" y="660" width="1" height="10" fill="#c0c0c0" />
<rect x="40" y="654" width="1" height="16" fill="#c0c0c0" />
<rect x="48" y="652" width="1" height="18" fill="#c0c0c0" />
<rect x="56" y="651" width="1" height="19" fill="#c0c0c0" />
<rect x="64" y="651" width="1" height="19" fill="#c0c0c0" />
<rect x="72" y="653" width="1" height="17" fill="#c0c0c0" />
<rect x="80" y="657" width="1" height="13" fill="#c0c0c0" />
<rect x="88" y="662" width="1" height="8" fill="#c0c0c0" />
<rect x="96" y="665" width="1" height="5" fill="#c0c0c0" />
<rect x="104" y="667" width="1" height="3" fill="#c0c0c0" />
<rect x="112" y="663" width="1" height="7" fill="#c0c0c0" />
<rect x="120" y="654" width="1" height="16" fill="#c0c0c0" />
<rect x="128" y="650" width="1" height="20" fill="#c0c0c0" />
<rect x="136" y="641" width="1" height="29" fill="#c0c0c0" />
<rect x="144" y="635" width="1" height="35" fill="#c0c0c0" />
<rect x="152" y="629" width="1" height="41" fill="#c0c0c0" />
<rect x="160" y="626" width="1" height="44" fill="#c0c0c0" />
<rect x="168" y="618" width="1" height="52" fill="#c0c0c0" />
<rect x="176" y="621" width="1" height="49" fill="#c0c0c0" />
<rect x="184" y="619" width="1" height="51" fill="#c0c0c0" />
<rect x="192" y="617" width="1" height="53" fill="#c0c0c0" />
<rect x="200" y="615" width="1" height="55" fill="#c0c0c0" />
<rect x="208" y="615" width="1" height="55" fill="#c0c0c0" />
<rect x="216" y="611" width="1" height="59" fill="#c0c0c0" />
<rect x="224" y="607" width="1" height="63" fill="#c0c0c0" />
<rect x="232" y="605" width="1" height="65" fill="#c0c0c0" />
<rect x="240" y="604" width="1" height="66" fill="#c0c0c0" />
<rect x="248" y="606" width="1" height="64" fill="#c0c0c0" />
<rect x="256" y="611" width="1" height="59" fill="#c0c0c0" />
<rect x="264" y="623" width="1" height="47" fill="#c0c0c0" />
<rect x="272" y="641" width="1" height="29" fill="#c0c0c0" />
<rect x="280" y="662" width="1" height="8" fill="#c0c0c0" />
<rect x="288" y="669" width="1" height="9" fill="#c0c0c0" />
<rect x="296" y="669" width="1" height="24" fill="#c0c0c0" />
<rect x="304" y="669" width="1" height="30" fill="#c0c0c0" />
<rect x="312" y="669" width="1" height="39" fill="#c0c0c0" />
<rect x="320" y="669" width="1" height="52" fill="#c0c0c0" />
<rect x="328" y="669" width="1" height="64" fill="#c0c0c0" />
<rect x="336" y="669" width="1" height="73" fill="#c0c0c0" />
<rect x="344" y="669" width="1" height="71" fill="#c0c0c0" />
<rect x="352" y="669" width="1" height="67" fill="#c0c0c0" />
<rect x="360" y="669" width="1" height="60" fill="#c0c0c0" />
<rect x="368" y="669" width="1" height="49" fill="#c0c0c0" />
<rect x="376" y="669" width="1" height="41" fill="#c0c0c0" />
<rect x="384" y="669" width="1" height="32" fill="#c0c0c0" />
<rect x="392" y="669" width="1" height="29" fill="#c0c0c0" />
<rect x="400" y="669" width="1" height="29" fill="#c0c0c0" />
<rect x="408" y="669" width="1" height="28" fill="#c0c0c0" />
<rect x="416" y="669" width="1" height="21" fill="#c0c0c0" />
<rect x="424" y="669" width="1" height="13" fill="#c0c0c0" />
<rect x="432" y="669" width="1" height="7" fill="#c0c0c0" />
<rect x="440" y="668" width="1" height="2" fill="#c0c0c0" />
<rect x="448" y="664" width="1" height="6" fill="#c0c0c0" />
<rect x="456" y="658" width="1" height="12" fill="#c0c0c0" />
<rect x="464" y="648" width="1" height="22" fill="#c0c0c0" />
<rect x="472" y="638" width="1" height="32" fill="#c0c0c0" />
<rect x="480" y="631" width="1" height="39" fill="#c0c0c0" />
<rect x="488" y="631" width="1" height="39" fill="#c0c0c0" />
<rect x="496" y="632" width="1" height="38" fill="#c0c0c0" />
<rect x="504" y="631" width="1" height="39" fill="#c0c0c0" />
<rect x="512" y="622" width="1" height="48" fill="#c0c0c0" />
<rect x="520" y="611" width="1" height="59" fill="#c0c0c0" />
<rect x="528" y="604" width="1" height="66" fill="#c0c0c0" />
<rect x="536" y="600" width="1" height="70" fill="#c0c0c0" />
<rect x="544" y="597" width="1" height="73" fill="#c0c0c0" />
<rect x="552" y="590" width="1" height="80" fill="#c0c0c0" />
<rect x="560" y="592" width="1" height="78" fill="#c0c0c0" />
<rect x="568" y="602" width="1" height="68" fill="#c0c0c0" />
<rect x="576" y="607" width="1" height="63" fill="#c0c0c0" />
<rect x="584" y="612" width="1" height="58" fill="#c0c0c0" />
<rect x="592" y="613" width="1" height="57" fill="#c0c0c0" />
<rect x="600" y="614" width="1" height="56" fill="#c0c0c0" />
<rect x="608" y="629" width="1" height="41" fill="#c0c0c0" />
<rect x="616" y="642" width="1" height="28" fill="#c0c0c0" />
<rect x="624" y="653" width="1" height="17" fill="#c0c0c0" />
<rect x="632" y="657" width="1" height="13" fill="#c0c0c0" />
<rect x="640" y="663" width="1" height="7" fill="#c0c0c0" />
<rect x="648" y="669" width="1" height="4" fill="#c0c0c0" />
<rect x="656" y="669" width="1" height="6" fill="#c0c0c0" />
<rect x="664" y="669" width="1" height="3" fill="#c0c0c0" />
<rect x="672" y="669" width="1" height="1" fill="#c0c0c0" />
<rect x="680" y="669" width="1" height="1" fill="#c0c0c0" />
<rect x="688" y="666" width="1" height="4" fill="#c0c0c0" />
<rect x="696" y="660" width="1" height="10" fill="#c0c0c0" />
<rect x="704" y="657" width="1" height="13" fill="#c0c0c0" />
<rect x="712" y="653" width="1" height="17" fill="#c0c0c0" />
<rect x="720" y="650" width="1" height="20" fill="#c0c0c0" />
<rect x="728" y="647" width="1" height="23" fill="#c0c0c0" />
<rect x="736" y="642" width="1" height="28" fill="#c0c0c0" />
<rect x="744" y="640" width="1" height="30" fill="#c0c0c0" />
<rect x="752" y="641" width="1" height="29" fill="#c0c0c0" />
<rect x="760" y="640" width="1" height="30" fill="#c0c0c0" />
<rect x="768" y="640" width="1" height="30" fill="#c0c0c0" />
<rect x="776" y="644" width="1" height="26" fill="#c0c0c0" />
<rect x="784" y="646" width="1" height="24" fill="#c0c0c0" />
<rect x="792" y="644" width="1" height="26" fill="#c0c0c0" />
<rect x="800" y="644" width="1" height="26" fill="#c0c0c0" />
<rect x="808" y="644" width="1" height="26" fill="#c0c0c0" />
<rect x="816" y="642" width="1" height="28" fill="#c0c0c0" />
<rect x="824" y="640" width="1" height="30" fill="#c0c0c0" />
<rect x="832" y="638" width="1" height="32" fill="#c0c0c0" />
<rect x="840" y="637" width="1" height="33" fill="#c0c0c0" />
<rect x="848" y="641" width="1" height="29" fill="#c0c0c0" />
<rect x="856" y="642" width="1" height="28" fill="#c0c0c0" />
<rect x="864" y="642" width="1" height="28" fill="#c0c0c0" />
<rect x="872" y="642" width="1" height="28" fill="#c0c0c0" />
<rect x="880" y="641" width="1" height="29" fill="#c0c0c0" />
<rect x="888" y="641" width="1" height="29" fill="#c0c0c0" />
<rect x="896" y="633" width="1" height="37" fill="#c0c0c0" />
<rect x="904" y="628" width="1" height="42" fill="#c0c0c0" />
<rect x="912" y="622" width="1" height="48" fill="#c0c0c0" />
<rect x="920" y="619" width="1" height="51" fill="#c0c0c0" />
<rect x="928" y="616" width="1" height="54" fill="#c0c0c0" />
<rect x="936" y="616" width="1" height="54" fill="#c0c0c0" />
<rect x="944" y="612" width="1" height="58" fill="#c0c0c0" />
<rect x="952" y="607" width="1" height="63" fill="#c0c0c0" />
<rect x="960" y="614" width="1" height="56" fill="#c0c0c0" />
<rect x="968" y="620" width="1" height="50" fill="#c0c0c0" />
<rect x="976" y="625" width="1" height="45" fill="#c0c0c0" />
<rect x="984" y="628" width="1" height="42" fill="#c0c0c0" />
<rect x="992" y="631" width="1" height="39" fill="#c0c0c0" />
<rect x="1000" y="626" width="1" height="44" fill="#c0c0c0" />
<rect x="1008" y="620" width="1" height="50" fill="#c0c0c0" />
<rect x="1016" y="617" width="1" height="53" fill="#c0c0c0" />
<rect x="1024" y="621" width="1" height="49" fill="#c0c0c0" />
<rect x="1032" y="631" width="1" height="39" fill="#c0c0c0" />
<rect x="1040" y="638" width="1" height="32" fill="#c0c0c0" />
<rect x="1048" y="646" width="1" height="24" fill="#c0c0c0" />
<rect x="1056" y="646" width="1" height="24" fill="#c0c0c0" />
<rect x="1064" y="650" width="1" height="20" fill="#c0c0c0" />
<rect x="1072" y="651" width="1" height="19" fill="#c0c0c0" />
<rect x="1080" y="657" width="1" height="13" fill="#c0c0c0" />
<rect x="1088" y="662" width="1" height="8" fill="#c0c0c0" />
<rect x="1096" y="669" width="1" height="1" fill="#c0c0c0" />
<rect x="1104" y="669" width="1" height="10" fill="#c0c0c0" />
<rect x="1112" y="669" width="1" height="18" fill="#c0c0c0" />
<rect x="1120" y="669" width="1" height="11" fill="#c0c0c0" />
<rect x="1128" y="669" width="1" height="3" fill="#c0c0c0" />
<rect x="1136" y="666" width="1" height="4" fill="#c0c0c0" />
<rect x="1144" y="663" width="1" height="7" fill="#c0c0c0" />
<rect x="1152" y="664" width="1" height="6" fill="#c0c0c0" />
<rect x="1160" y="663" width="1" height="7" fill="#c0c0c0" />
<rect x="1168" y="655" width="1" height="15" fill="#c0c0c0" />
<rect x="1176" y="642" width="1" height="28" fill="#c0c0c0" />
<rect x="1184" y="632" width="1" height="38" fill="#c0c0c0" />
<rect x="1192" y="627" width="1" height="43" fill="#c0c0c0" />
<rect x="1200" y="624" width="1" height="46" fill="#c0c0c0" />
<rect x="1208" y="624" width="1" height="46" fill="#c0c0c0" />
<rect x="1216" y="626" width="1" height="44" fill="#c0c0c0" />
<rect x="1224" y="628" width="1" height="42" fill="#c0c0c0" />
<rect x="1232" y="627" width="1" height="43" fill="#c0c0c0" />
<rect x="1240" y="628" width="1" height="42" fill="#c0c0c0" />
<rect x="1248" y="629" width="1" height="41" fill="#c0c0c0" />
<rect x="1256" y="634" width="1" height="36" fill="#c0c0c0" />
<rect x="1264" y="633" width="1" height="37" fill="#c0c0c0" />
<rect x="1272" y="630" width="1" height="40" fill="#c0c0c0" />
<rect x="1280" y="630" width="1" height="40" fill="#c0c0c0" />
<rect x="1288" y="631" width="1" height="39" fill="#c0c0c0" />
<rect x="1296" y="631" width="1" height="39" fill="#c0c0c0" />
<rect x="1304" y="630" width="1" height="40" fill="#c0c0c0" />
<rect x="1312" y="623" width="1" height="47" fill="#c0c0c0" />
<rect x="1320" y="616" width="1" height="54" fill="#c0c0c0" />
<rect x="1328" y="613" width="1" height="57" fill="#c0c0c0" />
<rect x="1336" y="608" width="1" height="62" fill="#c0c0c0" />
<rect x="1344" y="609" width="1" height="61" fill="#c0c0c0" />
<rect x="1352" y="610" width="1" height="60" fill="#c0c0c0" />
<rect x="1360" y="613" width="1" height="57" fill="#c0c0c0" />
<rect x="1368" y="615" width="1" height="55" fill="#c0c0c0" />
<rect x="1376" y="617" width="1" height="53" fill="#c0c0c0" />
</g>
<polyline points="0.0,652.7 8.0,647.6 8.2,647.6 16.0,646.7 20.4,646.5 24.0,646.5 32.0,646.5 36.8,646.5 40.0,646.6 48.0,647.6 53.2,648.6 56.0,649.5 61.3,651.2 64.0,651.5 72.0,652.1 77.7,652.7 80.0,653.2 87.9,655.3 88.0,655.3 96.0,655.5 102.2,655.7 104.0,655.8 112.0,657.1 114.5,657.2 120.0,657.2 128.0,657.2 130.9,657.2 136.0,656.3 143.1,654.1 144.0,653.9 151.3,652.7 152.0,652.5 160.0,647.5 161.5,646.5 168.0,642.6 173.8,639.0 176.0,637.5 184.0,631.8 185.0,631.2 192.0,627.5 196.3,625.7 200.0,624.4 204.5,623.0 208.0,621.7 216.0,618.5 216.7,618.3 224.0,615.9 232.0,613.6 233.1,613.4 240.0,612.3 245.3,611.4 248.0,610.7 255.6,609.1 256.0,609.1 264.0,610.0 265.8,610.3 272.0,612.6 276.0,614.8 280.0,617.5 286.2,623.0 288.0,624.8 296.0,634.7 296.5,635.3 304.0,645.8 306.7,649.6 312.0,656.8 316.9,663.9 320.0,669.2 327.1,682.3 328.0,683.9 331.0,689.1 336.0,697.5 336.1,697.7 344.0,708.2 344.3,708.5 352.0,716.7 354.5,718.7 360.0,722.1 366.8,724.8 368.0,725.1 376.0,726.5 379.1,726.7 384.0,726.3 387.2,725.7 392.0,723.9 397.5,720.8 400.0,719.4 407.7,714.6 408.0,714.4 416.0,708.7 420.0,705.8 424.0,702.8 432.0,696.7 432.2,696.6 440.0,691.4 444.5,688.5 448.0,686.2 456.0,680.9 456.8,680.3 464.0,675.0 469.0,671.1 472.0,668.5 480.0,661.3 481.3,660.2 488.0,654.7 491.5,652.1 496.0,649.0 503.8,644.1 504.0,644.0 512.0,639.2 518.1,635.3 520.0,633.9 528.0,627.3 528.3,627.1 536.0,622.1 540.6,619.3 544.0,617.3 552.0,612.9 552.9,612.4 560.0,607.7 567.2,604.0 568.0,603.8 576.0,602.1 581.5,601.6 584.0,601.6 592.0,601.6 597.8,601.6 600.0,601.9 608.0,605.6 608.1,605.6 616.0,610.6 620.3,613.8 624.0,616.7 632.0,623.5 632.6,624.0 640.0,631.0 644.9,635.7 648.0,638.5 656.0,645.5 657.1,646.5 664.0,652.7 668.2,656.1 672.0,658.6 678.4,662.3 680.0,663.1 686.6,666.0 688.0,666.3 696.0,667.4 696.8,667.4 704.0,666.5 709.1,665.6 712.0,665.2 719.3,663.9 720.0,663.7 728.0,659.0 728.5,658.8 736.0,656.9 737.7,656.4 744.0,653.7 750.0,651.0 752.0,650.3 760.0,648.1 760.2,648.0 768.0,646.0 768.4,645.9 776.0,643.0 776.5,642.9 784.0,642.6 792.0,642.4 792.9,642.4 800.0,642.0 808.0,641.5 813.3,641.4 816.0,641.4 824.0,641.4 832.0,641.4 833.8,641.4 840.0,641.3 848.0,641.0 854.2,640.8 856.0,640.8 864.0,640.6 872.0,640.4 874.7,640.4 880.0,640.4 888.0,640.4 891.0,640.4 896.0,639.7 901.3,638.4 904.0,637.9 912.0,636.4 912.5,636.3 920.0,633.4 920.7,633.2 928.0,631.3 931.9,630.2 936.0,628.7 944.0,625.2 944.2,625.1 952.0,621.6 954.4,620.6 960.0,618.1 964.6,616.9 968.0,616.7 976.0,616.5 979.0,616.5 984.0,617.0 991.2,618.3 992.0,618.4 1000.0,619.5 1000.2,619.5 1008.0,619.9 1016.0,620.4 1016.6,620.4 1024.0,621.3 1032.0,622.9 1035.0,623.6 1040.0,625.4 1048.0,628.9 1049.3,629.2 1056.0,630.3 1061.6,631.2 1064.0,631.9 1072.0,635.1 1073.8,635.9 1080.0,638.9 1088.0,643.4 1088.1,643.5 1096.0,649.5 1100.4,652.7 1104.0,654.9 1112.0,659.4 1112.7,659.8 1120.0,664.0 1122.9,665.3 1128.0,666.8 1133.1,668.0 1136.0,668.7 1144.0,670.5 1145.4,670.7 1152.0,671.2 1159.7,671.5 1160.0,671.5 1167.9,669.4 1168.0,669.4 1176.0,665.3 1184.0,659.6 1184.2,659.4 1192.0,653.0 1192.4,652.7 1200.0,647.3 1200.6,646.9 1208.0,643.2 1212.9,640.8 1216.0,639.1 1224.0,634.5 1225.1,633.9 1232.0,630.7 1233.3,630.2 1240.0,627.9 1243.5,627.1 1248.0,626.6 1255.8,626.1 1256.0,626.1 1264.0,627.7 1272.0,628.1 1280.0,628.3 1282.4,628.5 1288.0,629.8 1288.5,629.8 1296.0,629.8 1304.0,629.6 1310.4,629.4 1312.0,629.3 1320.0,627.4 1320.5,627.3 1328.0,624.9 1330.9,624.0 1336.0,622.7 1343.2,621.0 1344.0,620.8 1351.3,618.3 1352.0,618.1 1360.0,616.4 1360.5,616.3 1368.0,615.0 1376.0,614.0" fill="none" stroke="#ff0000" stroke-width="0.95" stroke-dasharray="2.6 3"/>
<line x1="1320.5" y1="611.4" x2="1393" y2="613.9" stroke="#ff0000" stroke-width="2.8"/>
<polygon points="1401.4,614.3 1391.6,609.8 1391.4,618.6" fill="#ff0000"/>
<g stroke="#c0c0c0" stroke-width="1" stroke-dasharray="3 3" class="ce">
<line x1="0" y1="788.5" x2="1620" y2="788.5"/>
<line x1="0" y1="839.5" x2="1620" y2="839.5"/>
<line x1="0" y1="900.5" x2="1620" y2="900.5"/>
</g>
<polyline points="0.0,835.3 8.0,838.7 16.0,837.3 24.0,857.5 32.0,836.7 40.0,827.5 48.0,832.2 56.0,834.2 64.0,835.3 72.0,837.3 80.0,841.8 88.0,846.5 96.0,843.8 104.0,842.4 112.0,830.6 120.0,820.4 128.0,825.5 136.0,816.3 144.0,820.4 152.0,817.7 160.0,817.3 168.0,810.6 176.0,829.5 184.0,822.4 192.0,821.4 200.0,819.3 208.0,821.4 216.0,814.2 224.0,812.2 232.0,812.2 240.0,815.3 248.0,816.9 256.0,827.1 264.0,844.2 272.0,860.1 280.0,868.3 288.0,868.3 296.0,871.8 304.0,856.5 312.0,864.2 320.0,871.4 328.0,873.4 336.0,874.4 344.0,856.5 352.0,853.4 360.0,844.8 368.0,836.3 376.0,839.3 384.0,835.3 392.0,843.2 400.0,847.3 408.0,847.3 416.0,833.6 424.0,830.2 432.0,832.2 440.0,824.4 448.0,830.6 456.0,827.1 464.0,817.3 472.0,814.2 480.0,814.2 488.0,828.1 496.0,828.1 504.0,824.0 512.0,812.2 520.0,805.1 528.0,809.1 536.0,811.2 544.0,809.1 552.0,803.4 560.0,818.3 568.0,836.3 576.0,829.1 584.0,831.2 592.0,825.5 600.0,824.4 608.0,848.5 616.0,851.4 624.0,851.4 632.0,842.2 640.0,845.9 648.0,856.5 656.0,843.2 664.0,836.7 672.0,835.3 680.0,838.7 688.0,832.6 696.0,829.1 704.0,831.6 712.0,827.1 720.0,828.5 728.0,826.5 736.0,821.4 744.0,826.1 752.0,830.6 760.0,827.5 768.0,827.5 776.0,834.2 784.0,836.7 792.0,826.1 800.0,828.5 808.0,827.5 816.0,826.5 824.0,818.3 832.0,820.4 840.0,820.4 848.0,838.7 856.0,827.1 864.0,828.5 872.0,827.5 880.0,824.4 888.0,824.4 896.0,806.1 904.0,806.1 912.0,804.0 920.0,805.5 928.0,804.0 936.0,813.6 944.0,803.0 952.0,798.3 960.0,833.6 968.0,833.6 976.0,832.2 984.0,828.1 992.0,827.3 1000.0,813.2 1008.0,808.5 1016.0,813.2 1024.0,829.1 1032.0,843.4 1040.0,842.2 1048.0,844.4 1056.0,832.6 1064.0,839.1 1072.0,835.3 1080.0,845.2 1088.0,846.5 1096.0,856.1 1104.0,858.1 1112.0,862.2 1120.0,831.6 1128.0,828.5 1136.0,827.5 1144.0,832.2 1152.0,840.4 1160.0,835.7 1168.0,823.8 1176.0,814.2 1184.0,814.2 1192.0,819.3 1200.0,821.4 1208.0,824.4 1216.0,828.1 1224.0,830.6 1232.0,823.0 1240.0,824.4 1248.0,826.5 1256.0,835.7 1264.0,824.4 1272.0,821.4 1280.0,824.4 1288.0,824.4 1296.0,822.4 1304.0,817.9 1312.0,808.1 1320.0,803.3 1328.0,807.1 1336.0,806.1 1344.0,814.0 1352.0,812.2 1360.0,814.5 1368.0,820.1 1376.0,821.7" fill="none" stroke="#1e8cf0" stroke-width="1.05" stroke-linejoin="round"/>
<line x1="1305" y1="806" x2="1372" y2="815.2" stroke="#ff0000" stroke-width="2.8"/>
<polygon points="1380.4,816.4 1370.8,810 1369.4,819.8" fill="#ff0000"/>
<g class="ce">
<rect x="0" y="25" width="1621" height="1" fill="#000" />
<rect x="1620" y="25" width="1" height="554" fill="#000" />
<rect x="0" y="578" width="1621" height="1" fill="#000" />
<rect x="0" y="580" width="1621" height="1" fill="#000" />
<rect x="1620" y="580" width="1" height="171" fill="#000" />
<rect x="0" y="750" width="1621" height="1" fill="#000" />
<rect x="0" y="752" width="1621" height="1" fill="#000" />
<rect x="1620" y="752" width="1" height="175" fill="#000" />
<rect x="0" y="926" width="1621" height="1" fill="#000" />
<rect x="1666" y="23" width="1" height="916" fill="#e4e4e4" />
<rect x="1621" y="146" width="2" height="1" fill="#000" />
<rect x="1621" y="179" width="2" height="1" fill="#000" />
<rect x="1621" y="212" width="2" height="1" fill="#000" />
<rect x="1621" y="245" width="2" height="1" fill="#000" />
<rect x="1621" y="278" width="2" height="1" fill="#000" />
<rect x="1621" y="311" width="2" height="1" fill="#000" />
<rect x="1621" y="344" width="2" height="1" fill="#000" />
<rect x="1621" y="377" width="2" height="1" fill="#000" />
<rect x="1621" y="410" width="2" height="1" fill="#000" />
<rect x="1621" y="443" width="2" height="1" fill="#000" />
<rect x="1621" y="476" width="2" height="1" fill="#000" />
<rect x="1621" y="509" width="2" height="1" fill="#000" />
<rect x="1621" y="542" width="2" height="1" fill="#000" />
<rect x="1621" y="575" width="2" height="1" fill="#000" />
<rect x="1621" y="582" width="2" height="1" fill="#000" />
<rect x="1621" y="669" width="2" height="1" fill="#000" />
<rect x="1621" y="744" width="2" height="1" fill="#000" />
<rect x="1621" y="754" width="2" height="1" fill="#000" />
<rect x="1621" y="788" width="2" height="1" fill="#000" />
<rect x="1621" y="839" width="2" height="1" fill="#000" />
<rect x="1621" y="900" width="2" height="1" fill="#000" />
<rect x="1621" y="919" width="2" height="1" fill="#000" />
<rect x="1621" y="50" width="2" height="1" fill="#000" />
<rect x="1621" y="80" width="2" height="1" fill="#000" />
<rect x="1621" y="112" width="2" height="1" fill="#000" />
<rect x="1621" y="139" width="2" height="1" fill="#000" />
<rect x="56" y="927" width="1" height="3" fill="#000" />
<rect x="120" y="927" width="1" height="3" fill="#000" />
<rect x="184" y="927" width="1" height="3" fill="#000" />
<rect x="248" y="927" width="1" height="3" fill="#000" />
<rect x="312" y="927" width="1" height="3" fill="#000" />
<rect x="376" y="927" width="1" height="3" fill="#000" />
<rect x="440" y="927" width="1" height="3" fill="#000" />
<rect x="504" y="927" width="1" height="3" fill="#000" />
<rect x="568" y="927" width="1" height="3" fill="#000" />
<rect x="632" y="927" width="1" height="3" fill="#000" />
<rect x="696" y="927" width="1" height="3" fill="#000" />
<rect x="760" y="927" width="1" height="3" fill="#000" />
<rect x="824" y="927" width="1" height="3" fill="#000" />
<rect x="888" y="927" width="1" height="3" fill="#000" />
<rect x="952" y="927" width="1" height="3" fill="#000" />
<rect x="1016" y="927" width="1" height="3" fill="#000" />
<rect x="1080" y="927" width="1" height="3" fill="#000" />
<rect x="1144" y="927" width="1" height="3" fill="#000" />
<rect x="1208" y="927" width="1" height="3" fill="#000" />
<rect x="1272" y="927" width="1" height="3" fill="#000" />
<rect x="1336" y="927" width="1" height="3" fill="#000" />
</g>
<rect x="1615.5" y="48.5" width="4" height="4" fill="#fff" stroke="#ff0000" stroke-width="1" class="ce"/>
<g clip-path="url(#cLbl)">
<rect x="1622" y="20" width="41" height="11" fill="#ff0000" class="ce"/>
<text x="1626.6" y="28.7" font-size="9.6" fill="#fff" textLength="32.2" lengthAdjust="spacingAndGlyphs" class="sw" >125.490</text>
<rect x="1622" y="44" width="41" height="11" fill="#ff0000" class="ce"/>
<text x="1626.6" y="52.7" font-size="9.6" fill="#fff" textLength="32.2" lengthAdjust="spacingAndGlyphs" class="sw" >124.442</text>
<rect x="1622" y="78.5" width="41" height="11" fill="#000000" class="ce"/>
<text x="1626.6" y="87.2" font-size="9.6" fill="#fff" textLength="32.2" lengthAdjust="spacingAndGlyphs" class="sw" >122.879</text>
<rect x="1622" y="74" width="41" height="11" fill="#ffa500" class="ce"/>
<text x="1626.6" y="82.7" font-size="9.6" fill="#fff" textLength="32.2" lengthAdjust="spacingAndGlyphs" class="sw" >123.062</text>
<rect x="1622" y="106" width="41" height="11" fill="#0000ff" class="ce"/>
<text x="1626.6" y="114.7" font-size="9.6" fill="#fff" textLength="32.2" lengthAdjust="spacingAndGlyphs" class="sw" >121.623</text>
</g>
<text x="1626.6" y="150" font-size="9.6" fill="#000" textLength="32.2" lengthAdjust="spacingAndGlyphs" class="s" >120.110</text>
<text x="1626.6" y="183" font-size="9.6" fill="#000" textLength="32.2" lengthAdjust="spacingAndGlyphs" class="s" >118.630</text>
<text x="1626.6" y="216" font-size="9.6" fill="#000" textLength="32.2" lengthAdjust="spacingAndGlyphs" class="s" >117.150</text>
<text x="1626.6" y="249" font-size="9.6" fill="#000" textLength="32.2" lengthAdjust="spacingAndGlyphs" class="s" >115.630</text>
<text x="1626.6" y="282" font-size="9.6" fill="#000" textLength="32.2" lengthAdjust="spacingAndGlyphs" class="s" >114.150</text>
<text x="1626.6" y="315" font-size="9.6" fill="#000" textLength="32.2" lengthAdjust="spacingAndGlyphs" class="s" >112.670</text>
<text x="1626.6" y="348" font-size="9.6" fill="#000" textLength="32.2" lengthAdjust="spacingAndGlyphs" class="s" >111.190</text>
<text x="1626.6" y="381" font-size="9.6" fill="#000" textLength="32.2" lengthAdjust="spacingAndGlyphs" class="s" >109.710</text>
<text x="1626.6" y="414" font-size="9.6" fill="#000" textLength="32.2" lengthAdjust="spacingAndGlyphs" class="s" >108.230</text>
<text x="1626.6" y="447" font-size="9.6" fill="#000" textLength="32.2" lengthAdjust="spacingAndGlyphs" class="s" >106.710</text>
<text x="1626.6" y="480" font-size="9.6" fill="#000" textLength="32.2" lengthAdjust="spacingAndGlyphs" class="s" >105.230</text>
<text x="1626.6" y="513" font-size="9.6" fill="#000" textLength="32.2" lengthAdjust="spacingAndGlyphs" class="s" >103.750</text>
<text x="1626.6" y="546" font-size="9.6" fill="#000" textLength="32.2" lengthAdjust="spacingAndGlyphs" class="s" >102.270</text>
<text x="1626.6" y="579" font-size="9.6" fill="#000" textLength="32.2" lengthAdjust="spacingAndGlyphs" class="s" >100.790</text>
<g>
<rect x="1622" y="133" width="41" height="11" fill="#0000ff" class="ce"/>
<text x="1626.6" y="142.2" font-size="9.6" fill="#fff" textLength="32.2" lengthAdjust="spacingAndGlyphs" class="sw" >120.409</text>
</g>
<text x="1624.4" y="591" font-size="9.6" fill="#000" textLength="27.2" lengthAdjust="spacingAndGlyphs" class="s" >2.0593</text>
<text x="1626.4" y="673" font-size="9.6" fill="#000" textLength="17.6" lengthAdjust="spacingAndGlyphs" class="s" >0.00</text>
<text x="1624.2" y="747.2" font-size="9.6" fill="#000" textLength="30.6" lengthAdjust="spacingAndGlyphs" class="s" >-1.8729</text>
<text x="1624.4" y="763" font-size="9.6" fill="#000" textLength="13.6" lengthAdjust="spacingAndGlyphs" class="s" >100</text>
<text x="1624.4" y="792" font-size="9.6" fill="#000" textLength="9.2" lengthAdjust="spacingAndGlyphs" class="s" >80</text>
<text x="1624.4" y="843" font-size="9.6" fill="#000" textLength="9.2" lengthAdjust="spacingAndGlyphs" class="s" >50</text>
<text x="1624.4" y="904" font-size="9.6" fill="#000" textLength="9.2" lengthAdjust="spacingAndGlyphs" class="s" >15</text>
<text x="1624.4" y="923" font-size="9.6" fill="#000" textLength="4.6" lengthAdjust="spacingAndGlyphs" class="s" >0</text>
<text x="-2" y="593.2" font-size="9.4" fill="#000" textLength="125.6" lengthAdjust="spacingAndGlyphs" class="s" >MACD(12,26,9) 1.2473 1.3424</text>
<text x="-1.6" y="765.3" font-size="9.4" fill="#000" textLength="65.4" lengthAdjust="spacingAndGlyphs" class="s" >RSI(14) 60.9268</text>
<text x="-9.4" y="938.7" font-size="9.6" fill="#000" textLength="51.3" lengthAdjust="spacingAndGlyphs" class="s" >29 Apr 2022</text>
<text x="54.6" y="938.7" font-size="9.6" fill="#000" textLength="52.6" lengthAdjust="spacingAndGlyphs" class="s" >3 May 00:00</text>
<text x="118.6" y="938.7" font-size="9.6" fill="#000" textLength="52.6" lengthAdjust="spacingAndGlyphs" class="s" >4 May 08:00</text>
<text x="182.6" y="938.7" font-size="9.6" fill="#000" textLength="52.6" lengthAdjust="spacingAndGlyphs" class="s" >5 May 16:00</text>
<text x="246.6" y="938.7" font-size="9.6" fill="#000" textLength="52.6" lengthAdjust="spacingAndGlyphs" class="s" >9 May 00:00</text>
<text x="310.6" y="938.7" font-size="9.6" fill="#000" textLength="57.6" lengthAdjust="spacingAndGlyphs" class="s" >10 May 08:00</text>
<text x="374.6" y="938.7" font-size="9.6" fill="#000" textLength="57.6" lengthAdjust="spacingAndGlyphs" class="s" >11 May 16:00</text>
<text x="438.6" y="938.7" font-size="9.6" fill="#000" textLength="57.6" lengthAdjust="spacingAndGlyphs" class="s" >13 May 00:00</text>
<text x="502.6" y="938.7" font-size="9.6" fill="#000" textLength="57.6" lengthAdjust="spacingAndGlyphs" class="s" >16 May 08:00</text>
<text x="566.6" y="938.7" font-size="9.6" fill="#000" textLength="57.6" lengthAdjust="spacingAndGlyphs" class="s" >17 May 16:00</text>
<text x="630.6" y="938.7" font-size="9.6" fill="#000" textLength="57.6" lengthAdjust="spacingAndGlyphs" class="s" >19 May 00:00</text>
<text x="694.6" y="938.7" font-size="9.6" fill="#000" textLength="57.6" lengthAdjust="spacingAndGlyphs" class="s" >20 May 08:00</text>
<text x="758.6" y="938.7" font-size="9.6" fill="#000" textLength="57.6" lengthAdjust="spacingAndGlyphs" class="s" >23 May 16:00</text>
<text x="822.6" y="938.7" font-size="9.6" fill="#000" textLength="57.6" lengthAdjust="spacingAndGlyphs" class="s" >25 May 00:00</text>
<text x="886.6" y="938.7" font-size="9.6" fill="#000" textLength="57.6" lengthAdjust="spacingAndGlyphs" class="s" >26 May 08:00</text>
<text x="950.6" y="938.7" font-size="9.6" fill="#000" textLength="57.6" lengthAdjust="spacingAndGlyphs" class="s" >27 May 16:00</text>
<text x="1014.6" y="938.7" font-size="9.6" fill="#000" textLength="57.6" lengthAdjust="spacingAndGlyphs" class="s" >31 May 08:00</text>
<text x="1078.6" y="938.7" font-size="9.6" fill="#000" textLength="48.2" lengthAdjust="spacingAndGlyphs" class="s" >1 Jun 16:00</text>
<text x="1142.6" y="938.7" font-size="9.6" fill="#000" textLength="48.2" lengthAdjust="spacingAndGlyphs" class="s" >3 Jun 00:00</text>
<text x="1206.6" y="938.7" font-size="9.6" fill="#000" textLength="48.2" lengthAdjust="spacingAndGlyphs" class="s" >6 Jun 08:00</text>
<text x="1270.6" y="938.7" font-size="9.6" fill="#000" textLength="48.2" lengthAdjust="spacingAndGlyphs" class="s" >7 Jun 16:00</text>
<text x="1334.6" y="938.7" font-size="9.6" fill="#000" textLength="48.2" lengthAdjust="spacingAndGlyphs" class="s" >9 Jun 00:00</text>
<polygon points="0,36.6 2.4,36.6 0,33.6" fill="#000"/>
<text x="7.3" y="36.9" font-size="10" fill="#000" textLength="42.2" lengthAdjust="spacingAndGlyphs" class="s" >UKOil-,H4</text>
<text x="56.7" y="36.9" font-size="10" fill="#000" textLength="140.4" lengthAdjust="spacingAndGlyphs" class="s" >122.959 122.976 122.628 122.879</text>
<rect x="0" y="44" width="216" height="59" fill="#fff" />
<rect x="0" y="45" width="47" height="25" fill="url(#gSell)" />
<rect x="162" y="45" width="52" height="25" fill="url(#gSell)" />
<rect x="0" y="69" width="104" height="33" fill="url(#gPrice)" />
<rect x="106" y="69" width="108" height="33" fill="url(#gPrice)" />
<rect x="0" y="68" width="43" height="1" fill="#a80808" />
<rect x="0" y="69" width="43" height="0.8" fill="#f06a6a" />
<rect x="166" y="68" width="44" height="1" fill="#a80808" />
<rect x="166" y="69" width="44" height="0.8" fill="#f06a6a" />
<rect x="0" y="45" width="47" height="0.8" fill="#d42828" />
<rect x="162" y="45" width="52" height="0.8" fill="#d42828" />
<rect x="103" y="69" width="1" height="33" fill="#a80000" />
<rect x="213" y="45" width="1" height="57" fill="#a80000" />
<rect x="0" y="101" width="104" height="1" fill="#a00000" />
<rect x="106" y="101" width="108" height="1" fill="#a00000" />
<rect x="46" y="45" width="1" height="24" fill="#c82020" />
<rect x="162" y="45" width="1" height="24" fill="#c82020" />
<text x="7.2" y="60.6" font-size="12" fill="#fff" textLength="25.2" lengthAdjust="spacingAndGlyphs" >SELL</text>
<text x="175.4" y="60.6" font-size="12" fill="#fff" textLength="22.8" lengthAdjust="spacingAndGlyphs" >BUY</text>
<rect x="49.5" y="45.5" width="110" height="21" fill="#f4f4f4" stroke="#a8acb8" stroke-width="1"/>
<rect x="51" y="47" width="18" height="18" fill="url(#gBtn)" stroke="#c8c8c8" stroke-width="0.6"/>
<rect x="140" y="47" width="18" height="18" fill="url(#gBtn)" stroke="#c8c8c8" stroke-width="0.6"/>
<rect x="71" y="47" width="67" height="18" fill="#fff" stroke="#c8c8c8" stroke-width="0.6"/>
<polygon points="57,54 63,54 60,57.4" fill="#4060b8"/>
<polygon points="146,57 152,57 149,53.6" fill="#4060b8"/>
<text x="134.6" y="60.2" font-size="12.6" fill="#000" text-anchor="end" >1.00</text>
<text x="18.4" y="96.9" font-size="12.4" fill="#fff" textLength="20.4" lengthAdjust="spacingAndGlyphs" font-weight="bold" >122</text>
<text x="43" y="97.2" font-size="34" fill="#fff" textLength="33.8" lengthAdjust="spacingAndGlyphs" >87</text>
<text x="82" y="81.1" font-size="11" fill="#fff" textLength="6.2" lengthAdjust="spacingAndGlyphs" font-weight="bold" >9</text>
<text x="128.6" y="96.9" font-size="12.4" fill="#fff" textLength="20.4" lengthAdjust="spacingAndGlyphs" font-weight="bold" >122</text>
<text x="153.6" y="97.2" font-size="34" fill="#fff" textLength="34.4" lengthAdjust="spacingAndGlyphs" >99</text>
<text x="192.9" y="81.1" font-size="11" fill="#fff" textLength="6.2" lengthAdjust="spacingAndGlyphs" font-weight="bold" >9</text>
<rect x="0" y="0" width="1667" height="20" fill="#f0f0f0" />
<rect x="0" y="20" width="1667" height="1" fill="#f8f8f8" />
<rect x="0" y="21" width="1667" height="1" fill="#b4b4b4" />
<rect x="0" y="22" width="1667" height="1" fill="#6a6a6a" />
<rect x="0" y="23" width="1667" height="2" fill="#fff" />
<g>
<path d="M0 2.5H2.5L4 4V9H0Z" fill="#fff" stroke="#909090" stroke-width="0.7"/>
<path d="M0 11.5H2.2V7.6H5.4V11.5H7.4V15H5.4V18.8H2.2V15H0Z" fill="#2fc02f" stroke="#108a10" stroke-width="0.7"/>
<text x="10" y="12.6" font-size="12" fill="#000" textLength="36" lengthAdjust="spacingAndGlyphs">新订单</text>
<polygon points="57.6,9.6 66.2,2.2 74.1,10 67.7,16 61.5,15.4" fill="#e8b428" stroke="#9a6c10" stroke-width="0.8"/>
<polygon points="59.6,9.6 66.2,4 71.6,9.8 66.8,13.6" fill="#f6d870"/>
<path d="M58.2 11.2L62.4 16.2L68.2 16.6" stroke="#fff8e0" stroke-width="1" fill="none"/>
<rect x="88.4" y="1.4" width="10.6" height="11" fill="#3d8fe4" stroke="#1c5cb0" stroke-width="0.8"/>
<rect x="91.6" y="3.6" width="5.6" height="1.4" fill="#dcecff"/><rect x="91.6" y="6.4" width="5.6" height="1.2" fill="#dcecff"/><rect x="90" y="3.4" width="1.2" height="6" fill="#bcdcff"/>
<path d="M88.5 16.2C85.5 16.2 85.4 12.4 88.3 12.2C88.6 9.6 92.4 9.2 93.4 11.4C95 9.8 98 10.6 98 12.6C101.6 12.2 102.4 16.2 99.4 16.2Z" fill="#e6eef8" stroke="#8ea4c4" stroke-width="0.8"/>
<g fill="none" stroke="#6c9ad6" stroke-width="1.2"><circle cx="122" cy="8.6" r="2.6"/><path d="M117.6 12.4A5.6 5.6 0 1 1 126.4 12.4"/><path d="M115.4 14A8.3 8.3 0 1 1 128.6 14"/></g>
<path d="M122 8.6V16.4C125.4 16 126.6 13.4 126.6 12" stroke="#3fa63f" stroke-width="1.8" fill="none"/><circle cx="122" cy="8.6" r="1.5" fill="#2a7ad0"/>
<path d="M143.6 8.6L149 16.6L155.6 8.6Z" fill="#f2c63c" stroke="#c89418" stroke-width="0.7"/>
<ellipse cx="149" cy="7.4" rx="7.8" ry="2.6" fill="#4c8fd8" stroke="#2c68b0" stroke-width="0.7"/>
<path d="M144.8 6.6C144.8 0.6 153.2 0.6 153.2 6.6Z" fill="#5c9ee4" stroke="#2c68b0" stroke-width="0.7"/>
<circle cx="154.4" cy="12.6" r="3.7" fill="#d82818" stroke="#a01808" stroke-width="0.6"/><rect x="152.8" y="11" width="3.2" height="3.2" fill="#fff"/>
<text x="162.7" y="12.6" font-size="12" fill="#000" textLength="46.8" lengthAdjust="spacingAndGlyphs">自动交易</text>
<rect x="217" y="1" width="1" height="18" fill="#a6a6a6"/><rect x="218" y="1" width="1" height="18" fill="#fbfbfb"/>
<line x1="222.5" y1="1" x2="222.5" y2="18" stroke="#b4b4b4" stroke-width="3" stroke-dasharray="1 1"/>
<g stroke="#505050" stroke-width="1.1" fill="none"><path d="M235.5 16.5V3.6M233 14.4H246.6"/><path d="M233.9 5.6L235.5 3.2L237.1 5.6M244.6 12.8L247 14.4L244.6 16"/></g>
<path d="M242.4 4.2V12.4M242.4 5.8H244.6M239.8 11.2H242.4" stroke="#22a022" stroke-width="1.3" fill="none"/>
<rect x="255" y="1" width="1" height="18" fill="#a6a6a6"/><rect x="256" y="1" width="1" height="18" fill="#fbfbfb"/>
<rect x="257" y="0" width="24" height="19" fill="#f9f9f9"/>
<g stroke="#505050" stroke-width="1.1" fill="none"><path d="M263.5 16.5V3.6M261 14.4H274.6"/><path d="M261.9 5.6L263.5 3.2L265.1 5.6M272.6 12.8L275 14.4L272.6 16"/></g>
<path d="M269.5 1.2V13" stroke="#107810" stroke-width="1"/><rect x="267.2" y="3.2" width="4.8" height="7.6" fill="#2cc82c" stroke="#107810" stroke-width="0.8"/>
<g stroke="#505050" stroke-width="1.1" fill="none"><path d="M291.5 16.5V3.6M289 14.4H302.6"/><path d="M289.9 5.6L291.5 3.2L293.1 5.6M300.6 12.8L303 14.4L300.6 16"/></g>
<path d="M290.6 12.4C293.4 8.6 295.4 5.6 297.2 5.8C299 6 300.4 8.4 302.2 10" stroke="#22a022" stroke-width="1.2" fill="none"/>
<rect x="312" y="1" width="1" height="18" fill="#a6a6a6"/><rect x="313" y="1" width="1" height="18" fill="#fbfbfb"/>
<path d="M330.20000000000005 10.6L336.20000000000005 15.8" stroke="#c49820" stroke-width="3.2" stroke-linecap="round"/><path d="M330.40000000000003 10.6L336.0 15.4" stroke="#f2d468" stroke-width="1.4" stroke-linecap="round"/>
<circle cx="326.6" cy="6.9" r="5.2" fill="url(#gLens)" stroke="#4a8cd8" stroke-width="1.3"/>
<path d="M323.8 6.9H329.40000000000003M326.6 4.1V9.7" stroke="#3878c8" stroke-width="1.5"/>
<path d="M358.0 10.6L364.0 15.8" stroke="#c49820" stroke-width="3.2" stroke-linecap="round"/><path d="M358.2 10.6L363.79999999999995 15.4" stroke="#f2d468" stroke-width="1.4" stroke-linecap="round"/>
<circle cx="354.4" cy="6.9" r="5.2" fill="url(#gLens)" stroke="#4a8cd8" stroke-width="1.3"/>
<path d="M351.59999999999997 6.9H357.2" stroke="#3878c8" stroke-width="1.5"/>
<rect x="377" y="1.2" width="7.9" height="7.4" fill="#4aa030"/><rect x="385.7" y="1.2" width="7.8" height="7.4" fill="#2a62cc"/><rect x="377" y="9.4" width="7.9" height="7.3" fill="#2a62cc"/><rect x="385.7" y="9.4" width="7.8" height="7.3" fill="#4aa030"/>
<rect x="378.4" y="4.4" width="5.2" height="2.8" fill="none" stroke="#e8f0ff" stroke-width="0.8"/>
<rect x="387" y="4.4" width="5.2" height="2.8" fill="none" stroke="#e8f0ff" stroke-width="0.8"/>
<rect x="378.4" y="12.4" width="5.2" height="2.8" fill="none" stroke="#e8f0ff" stroke-width="0.8"/>
<rect x="387" y="12.4" width="5.2" height="2.8" fill="none" stroke="#e8f0ff" stroke-width="0.8"/>
<rect x="402" y="1" width="1" height="18" fill="#a6a6a6"/><rect x="403" y="1" width="1" height="18" fill="#fbfbfb"/>
<rect x="407" y="1" width="1" height="18" fill="#a6a6a6"/>
<rect x="408" y="0" width="26" height="19" fill="#f9f9f9"/>
<g stroke="#505050" stroke-width="1.1" fill="none"><path d="M415.5 16.5V3.6M413 14.4H426.6"/><path d="M413.9 5.6L415.5 3.2L417.1 5.6M424.6 12.8L427 14.4L424.6 16"/></g>
<polygon points="420.2,4.8 420.2,11.6 424.8,8.2" fill="#d8f4d8" stroke="#22a022" stroke-width="1.1"/>
<rect x="434" y="1" width="1" height="18" fill="#a6a6a6"/>
<rect x="435" y="0" width="26" height="19" fill="#f9f9f9"/>
<g stroke="#505050" stroke-width="1.1" fill="none"><path d="M443.5 16.5V3.6M441 14.4H454.6"/><path d="M441.9 5.6L443.5 3.2L445.1 5.6M452.6 12.8L455 14.4L452.6 16"/></g>
<path d="M449.4 3V12.6" stroke="#2a62cc" stroke-width="1.2"/><path d="M450.6 8.4H455.4M452.8 6.2L450.6 8.4L452.8 10.6" stroke="#d83818" stroke-width="1.1" fill="none"/>
<rect x="464" y="1" width="1" height="18" fill="#a6a6a6"/><rect x="465" y="1" width="1" height="18" fill="#fbfbfb"/>
<path d="M474.4 1.8H481.6L485.2 5.2V14.4H474.4Z" fill="#fcfcfc" stroke="#8c8c8c" stroke-width="0.8"/><path d="M479.6 4.2C477.8 3.8 477.6 5 477.6 6.4V11.4M476.4 7.4H479.2" stroke="#606060" stroke-width="0.9" fill="none"/>
<path d="M482.6 8.2H486V11.6H489.6V14.8H486V18.4H482.6V14.8H479.2V11.6H482.6Z" fill="#2fc42f" stroke="#108a10" stroke-width="0.7"/>
<polygon points="496,8 501,8 498.5,11" fill="#000"/>
<circle cx="520" cy="8.9" r="7.9" fill="#2a66c8"/><circle cx="520" cy="8.9" r="7.2" fill="#3f8ae6"/><circle cx="520" cy="8.9" r="4.8" fill="#fdfdfd" stroke="#cfe0f6" stroke-width="0.8"/><path d="M520 5.2V9.2H522.8" stroke="#404040" stroke-width="1" fill="none"/>
<polygon points="535,8 540,8 537.5,11" fill="#000"/>
<rect x="551.2" y="2.2" width="15.4" height="12.8" fill="#fff" stroke="#3a70c8" stroke-width="1"/><rect x="551.2" y="2.2" width="15.4" height="2.6" fill="#3a70c8"/>
<path d="M553 8.6L556 7.4L558 8.2L561 6.6L563 7.2L565 6" stroke="#b02818" stroke-width="1.1" fill="none"/><path d="M553 13L555.6 11.6L557.6 12.8L560.4 11L562.4 12.4L565 11.4" stroke="#1c9a2c" stroke-width="1.1" fill="none"/>
<polygon points="574,8 579,8 576.5,11" fill="#000"/>
<rect x="585" y="1" width="1" height="18" fill="#a6a6a6"/><rect x="586" y="1" width="1" height="18" fill="#fbfbfb"/>
<line x1="590.5" y1="1" x2="590.5" y2="18" stroke="#b4b4b4" stroke-width="3" stroke-dasharray="1 1"/>
<rect x="596" y="0" width="26" height="19" fill="#f9f9f9"/>
<polygon points="602.8,3 602.8,13.6 605.4,11.4 607.4,15.8 609,15 607,10.8 610.8,10.6" fill="#484848"/>
<path d="M635.5 2.4V16.4M628.2 9.4H642.8" stroke="#505050" stroke-width="1"/><rect x="634.6" y="8.5" width="1.8" height="1.8" fill="#f0f0f0"/>
<rect x="652" y="1" width="1" height="18" fill="#a6a6a6"/><rect x="653" y="1" width="1" height="18" fill="#fbfbfb"/>
<path d="M669.4 3.6V15.6" stroke="#484848" stroke-width="1.2"/>
<path d="M691.8 9.4H704" stroke="#484848" stroke-width="1.2"/>
<path d="M719.8 15.6L732 4" stroke="#505050" stroke-width="1.1"/>
<g stroke="#505050" stroke-width="0.9" fill="none"><path d="M746 12.6L759.4 5.2M747 15.4L757 9.8M746.6 9L757.6 3"/><path d="M750.4 6.6L748.8 14.8M753.6 4.6L752 13.2M756.6 2L755.2 11.4"/></g>
<text x="756.4" y="17.8" font-size="6.6" font-weight="bold" fill="#404040">E</text>
<g stroke="#505050" stroke-width="1" stroke-dasharray="1 1"><path d="M774.6 2.6H788.6M774.6 5.6H788.6M774.6 9.6H788.6M774.6 13.6H784.6"/></g>
<text x="784.8" y="17.8" font-size="6.6" font-weight="bold" fill="#404040">F</text>
<text x="805" y="14.2" font-size="12.4" font-weight="bold" fill="#686868" textLength="8.8" lengthAdjust="spacingAndGlyphs">A</text>
<rect x="831.4" y="3" width="12" height="12.6" fill="none" stroke="#505050" stroke-width="1" stroke-dasharray="1 1"/><text x="833.6" y="14" font-size="11" font-weight="bold" fill="#585858" textLength="7.8" lengthAdjust="spacingAndGlyphs">T</text>
<polygon points="859,6.6 862,3.4 865,6.6 862,8.6" fill="#404040"/><polygon points="866.4,12.2 869.6,9.6 872.8,12.2 869.6,15.4" fill="#404040"/><path d="M861.6 10.2L863.8 12.6L867.8 7.4" stroke="#404040" stroke-width="1.2" fill="none"/>
<polygon points="880,8 885,8 882.5,11" fill="#000"/>
<rect x="891" y="1" width="1" height="18" fill="#a6a6a6"/><rect x="892" y="1" width="1" height="18" fill="#fbfbfb"/>
<line x1="896.1" y1="1" x2="896.1" y2="18" stroke="#b4b4b4" stroke-width="3" stroke-dasharray="1 1"/>
<rect x="1042" y="0" width="24" height="19" fill="#f9f9f9"/>
<rect x="1041" y="1" width="1" height="17" fill="#a6a6a6"/>
<text x="906.5" y="13.2" font-size="10" fill="#505050" textLength="13" lengthAdjust="spacingAndGlyphs">M1</text>
<text x="934.6" y="13.2" font-size="10" fill="#505050" textLength="12.6" lengthAdjust="spacingAndGlyphs">M5</text>
<text x="960.6" y="13.2" font-size="10" fill="#505050" textLength="17.7" lengthAdjust="spacingAndGlyphs">M15</text>
<text x="988.7" y="13.2" font-size="10" fill="#505050" textLength="17.6" lengthAdjust="spacingAndGlyphs">M30</text>
<text x="1019.7" y="13.2" font-size="10" fill="#505050" textLength="11.5" lengthAdjust="spacingAndGlyphs">H1</text>
<text x="1046.3" y="13.2" font-size="10" fill="#505050" textLength="12.2" lengthAdjust="spacingAndGlyphs">H4</text>
<text x="1075.7" y="13.2" font-size="10" fill="#505050" textLength="11.2" lengthAdjust="spacingAndGlyphs">D1</text>
<text x="1103" y="13.2" font-size="10" fill="#505050" textLength="13.8" lengthAdjust="spacingAndGlyphs">W1</text>
<text x="1129.7" y="13.2" font-size="10" fill="#505050" textLength="14.8" lengthAdjust="spacingAndGlyphs">MN</text>
<rect x="1152" y="1" width="1" height="18" fill="#a6a6a6"/><rect x="1153" y="1" width="1" height="18" fill="#fbfbfb"/>
<path d="M1619.8 9.7L1614.8 14" stroke="#2c62cc" stroke-width="2.6" stroke-linecap="round"/><circle cx="1622.6" cy="6.5" r="3.9" fill="#f4f8ff" stroke="#2c66d4" stroke-width="1.3"/>
<path d="M1644 6.2C1650.4 6.2 1650.2 15.8 1644.2 16L1642.4 18L1641.8 15.8C1637.2 14.8 1637.6 6.2 1644 6.2Z" fill="#e2e4ea" stroke="#a8a8a8" stroke-width="0.9"/>
<circle cx="1653.7" cy="6.2" r="8.3" fill="url(#gBadge)"/><text x="1653.6" y="10.8" font-size="12.2" fill="#fff" text-anchor="middle">1</text>
</g>
</svg></body></html>
